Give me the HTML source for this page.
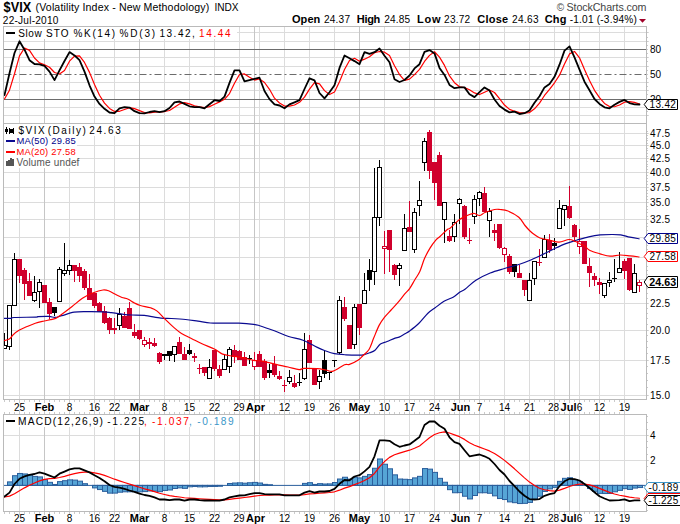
<!DOCTYPE html>
<html><head><meta charset="utf-8"><style>
html,body{margin:0;padding:0;background:#fff;overflow:hidden;}
svg{display:block;}
</style></head><body>
<svg width="680" height="524" viewBox="0 0 680 524" shape-rendering="auto">
<rect x="0" y="0" width="680" height="524" fill="#fff"/>
<text x="3.6" y="11.8" font-family="'Liberation Sans', sans-serif" font-size="13.9" fill="#000" font-weight="bold" text-anchor="start" textLength="27.6" lengthAdjust="spacingAndGlyphs" >$VIX</text>
<text x="35.6" y="10.8" font-family="'Liberation Sans', sans-serif" font-size="10.6" fill="#000" font-weight="normal" text-anchor="start" textLength="173.6" lengthAdjust="spacing" >(Volatility Index - New Methodology)</text>
<text x="214.5" y="11" font-family="'Liberation Sans', sans-serif" font-size="10.1" fill="#000" font-weight="normal" text-anchor="start" textLength="24" lengthAdjust="spacing" >INDX</text>
<text x="2.8" y="23.9" font-family="'Liberation Sans', sans-serif" font-size="10.1" fill="#000" font-weight="normal" text-anchor="start" textLength="55.6" lengthAdjust="spacing" >22-Jul-2010</text>
<text x="292" y="23.4" font-family="'Liberation Sans', sans-serif" font-size="11" fill="#000" font-weight="bold" text-anchor="start" textLength="28.3" lengthAdjust="spacing" >Open</text>
<text x="324" y="23.4" font-family="'Liberation Sans', sans-serif" font-size="10.1" fill="#000" font-weight="normal" text-anchor="start" textLength="26.0" lengthAdjust="spacing" >24.37</text>
<text x="356.8" y="23.4" font-family="'Liberation Sans', sans-serif" font-size="11" fill="#000" font-weight="bold" text-anchor="start" textLength="23.5" lengthAdjust="spacing" >High</text>
<text x="384.2" y="23.4" font-family="'Liberation Sans', sans-serif" font-size="10.1" fill="#000" font-weight="normal" text-anchor="start" textLength="26.0" lengthAdjust="spacing" >24.85</text>
<text x="416.9" y="23.4" font-family="'Liberation Sans', sans-serif" font-size="11" fill="#000" font-weight="bold" text-anchor="start" textLength="23.6" lengthAdjust="spacing" >Low</text>
<text x="444.1" y="23.4" font-family="'Liberation Sans', sans-serif" font-size="10.1" fill="#000" font-weight="normal" text-anchor="start" textLength="26.0" lengthAdjust="spacing" >23.72</text>
<text x="477.3" y="23.4" font-family="'Liberation Sans', sans-serif" font-size="11" fill="#000" font-weight="bold" text-anchor="start" textLength="30.8" lengthAdjust="spacing" >Close</text>
<text x="512.1" y="23.4" font-family="'Liberation Sans', sans-serif" font-size="10.1" fill="#000" font-weight="normal" text-anchor="start" textLength="26.5" lengthAdjust="spacing" >24.63</text>
<text x="544.8" y="23.4" font-family="'Liberation Sans', sans-serif" font-size="11" fill="#000" font-weight="bold" text-anchor="start" textLength="21.6" lengthAdjust="spacing" >Chg</text>
<text x="569.7" y="23.4" font-family="'Liberation Sans', sans-serif" font-size="10.1" fill="#000" font-weight="normal" text-anchor="start" textLength="67.1" lengthAdjust="spacing" >-1.01 (-3.94%)</text>
<path d="M639,19 L646,19 L642.5,22.8 Z" fill="#a00028"/>
<text x="556.8" y="10.6" font-family="'Liberation Sans', sans-serif" font-size="10" fill="#444" font-weight="normal" text-anchor="start" textLength="7.5" lengthAdjust="spacing" >©</text>
<text x="566.5" y="10.6" font-family="'Liberation Sans', sans-serif" font-size="10.7" fill="#444" font-weight="normal" text-anchor="start" textLength="80" lengthAdjust="spacing" >StockCharts.com</text>
<rect x="3.5" y="26.5" width="643.0" height="97.0" fill="#fff"/>
<line x1="3.5" y1="115.5" x2="649" y2="115.5" stroke="#dcdcdc" />
<line x1="3.5" y1="107.5" x2="649" y2="107.5" stroke="#dcdcdc" />
<line x1="3.5" y1="90.5" x2="649" y2="90.5" stroke="#dcdcdc" />
<line x1="3.5" y1="82.5" x2="649" y2="82.5" stroke="#dcdcdc" />
<line x1="3.5" y1="66.5" x2="649" y2="66.5" stroke="#dcdcdc" />
<line x1="3.5" y1="57.5" x2="649" y2="57.5" stroke="#dcdcdc" />
<line x1="3.5" y1="41.5" x2="649" y2="41.5" stroke="#dcdcdc" />
<line x1="3.5" y1="32.5" x2="649" y2="32.5" stroke="#dcdcdc" />
<line x1="19.5" y1="26.5" x2="19.5" y2="123.5" stroke="#dcdcdc"/>
<line x1="69.5" y1="26.5" x2="69.5" y2="123.5" stroke="#dcdcdc"/>
<line x1="94.5" y1="26.5" x2="94.5" y2="123.5" stroke="#dcdcdc"/>
<line x1="114.5" y1="26.5" x2="114.5" y2="123.5" stroke="#dcdcdc"/>
<line x1="164.5" y1="26.5" x2="164.5" y2="123.5" stroke="#dcdcdc"/>
<line x1="189.5" y1="26.5" x2="189.5" y2="123.5" stroke="#dcdcdc"/>
<line x1="214.5" y1="26.5" x2="214.5" y2="123.5" stroke="#dcdcdc"/>
<line x1="239.5" y1="26.5" x2="239.5" y2="123.5" stroke="#dcdcdc"/>
<line x1="259.5" y1="26.5" x2="259.5" y2="123.5" stroke="#dcdcdc"/>
<line x1="284.5" y1="26.5" x2="284.5" y2="123.5" stroke="#dcdcdc"/>
<line x1="309.5" y1="26.5" x2="309.5" y2="123.5" stroke="#dcdcdc"/>
<line x1="334.5" y1="26.5" x2="334.5" y2="123.5" stroke="#dcdcdc"/>
<line x1="384.5" y1="26.5" x2="384.5" y2="123.5" stroke="#dcdcdc"/>
<line x1="409.5" y1="26.5" x2="409.5" y2="123.5" stroke="#dcdcdc"/>
<line x1="434.5" y1="26.5" x2="434.5" y2="123.5" stroke="#dcdcdc"/>
<line x1="479.5" y1="26.5" x2="479.5" y2="123.5" stroke="#dcdcdc"/>
<line x1="504.5" y1="26.5" x2="504.5" y2="123.5" stroke="#dcdcdc"/>
<line x1="529.5" y1="26.5" x2="529.5" y2="123.5" stroke="#dcdcdc"/>
<line x1="554.5" y1="26.5" x2="554.5" y2="123.5" stroke="#dcdcdc"/>
<line x1="579.5" y1="26.5" x2="579.5" y2="123.5" stroke="#dcdcdc"/>
<line x1="599.5" y1="26.5" x2="599.5" y2="123.5" stroke="#dcdcdc"/>
<line x1="624.5" y1="26.5" x2="624.5" y2="123.5" stroke="#dcdcdc"/>
<line x1="44.5" y1="26.5" x2="44.5" y2="123.5" stroke="#c6c6c6"/>
<line x1="139.5" y1="26.5" x2="139.5" y2="123.5" stroke="#c6c6c6"/>
<line x1="254.5" y1="26.5" x2="254.5" y2="123.5" stroke="#c6c6c6"/>
<line x1="359.5" y1="26.5" x2="359.5" y2="123.5" stroke="#c6c6c6"/>
<line x1="459.5" y1="26.5" x2="459.5" y2="123.5" stroke="#c6c6c6"/>
<line x1="569.5" y1="26.5" x2="569.5" y2="123.5" stroke="#c6c6c6"/>
<line x1="3.5" y1="49.5" x2="646.5" y2="49.5" stroke="#6c6c6c" />
<line x1="3.5" y1="99.5" x2="646.5" y2="99.5" stroke="#6c6c6c" />
<line x1="4.5" y1="74.5" x2="646.5" y2="74.5" stroke="#6c6c6c" stroke-dasharray="7,3,2,3"/>
<clipPath id="c1"><rect x="4" y="27" width="642" height="96"/></clipPath>
<g clip-path="url(#c1)">
<polyline points="4.50,99.00 9.50,90.20 14.50,73.73 19.50,55.83 24.50,48.00 29.50,50.40 34.50,57.97 39.50,62.83 44.50,64.73 49.50,67.27 54.50,72.53 59.50,74.03 64.50,70.50 69.50,61.17 74.50,56.17 79.50,55.90 84.50,62.40 89.50,72.37 94.50,84.50 99.50,95.27 104.50,103.10 109.50,108.40 114.50,111.47 119.50,111.30 124.50,109.53 129.50,107.70 134.50,108.67 139.50,110.63 144.50,112.53 149.50,112.80 154.50,112.17 159.50,111.80 164.50,111.53 169.50,110.47 174.50,107.17 179.50,103.93 184.50,102.57 189.50,103.90 194.50,105.80 199.50,106.90 204.50,107.57 209.50,106.60 214.50,104.27 219.50,101.90 224.50,99.33 229.50,93.57 234.50,83.27 239.50,74.50 244.50,73.97 249.50,77.23 254.50,80.07 259.50,78.87 264.50,82.50 269.50,89.27 274.50,98.17 279.50,103.00 284.50,106.07 289.50,106.07 294.50,105.00 299.50,102.30 304.50,97.17 309.50,89.17 314.50,82.57 319.50,83.90 324.50,90.60 329.50,94.53 334.50,91.93 339.50,81.77 344.50,69.53 349.50,60.53 354.50,58.27 359.50,61.17 364.50,59.17 369.50,56.77 374.50,52.77 379.50,51.53 384.50,52.17 389.50,55.53 394.50,65.80 399.50,74.53 404.50,80.43 409.50,79.17 414.50,74.63 419.50,69.37 424.50,61.47 429.50,55.37 434.50,51.77 439.50,57.13 444.50,65.40 449.50,75.90 454.50,82.67 459.50,86.83 464.50,87.67 469.50,89.70 474.50,92.93 479.50,94.53 484.50,92.23 489.50,90.07 494.50,92.50 499.50,98.70 504.50,105.03 509.50,109.33 514.50,111.20 519.50,112.67 524.50,112.93 529.50,112.57 534.50,108.80 539.50,103.17 544.50,95.47 549.50,89.27 554.50,82.77 559.50,75.20 564.50,64.03 569.50,53.90 574.50,51.47 579.50,57.80 584.50,69.57 589.50,80.50 594.50,90.30 599.50,97.70 604.50,103.40 609.50,106.50 614.50,106.77 619.50,104.97 624.50,102.17 629.50,101.63 634.50,102.43 639.50,103.97" fill="none" stroke="#ff0000" stroke-width="1.2" stroke-linejoin="round" stroke-linecap="round" />
<polyline points="4.50,95.00 9.50,73.20 14.50,53.00 19.50,41.30 24.50,49.70 29.50,60.20 34.50,64.00 39.50,64.30 44.50,65.90 49.50,71.60 54.50,80.10 59.50,70.40 64.50,61.00 69.50,52.10 74.50,55.40 79.50,60.20 84.50,71.60 89.50,85.30 94.50,96.60 99.50,103.90 104.50,108.80 109.50,112.50 114.50,113.10 119.50,108.30 124.50,107.20 129.50,107.60 134.50,111.20 139.50,113.10 144.50,113.30 149.50,112.00 154.50,111.20 159.50,112.20 164.50,111.20 169.50,108.00 174.50,102.30 179.50,101.50 184.50,103.90 189.50,106.30 194.50,107.20 199.50,107.20 204.50,108.30 209.50,104.30 214.50,100.20 219.50,101.20 224.50,96.60 229.50,82.90 234.50,70.30 239.50,70.30 244.50,81.30 249.50,80.10 254.50,78.80 259.50,77.70 264.50,91.00 269.50,99.10 274.50,104.40 279.50,105.50 284.50,108.30 289.50,104.40 294.50,102.30 299.50,100.20 304.50,89.00 309.50,78.30 314.50,80.40 319.50,93.00 324.50,98.40 329.50,92.20 334.50,85.20 339.50,67.90 344.50,55.50 349.50,58.20 354.50,61.10 359.50,64.20 364.50,52.20 369.50,53.90 374.50,52.20 379.50,48.50 384.50,55.80 389.50,62.30 394.50,79.30 399.50,82.00 404.50,80.00 409.50,75.50 414.50,68.40 419.50,64.20 424.50,51.80 429.50,50.10 434.50,53.40 439.50,67.90 444.50,74.90 449.50,84.90 454.50,88.20 459.50,87.40 464.50,87.40 469.50,94.30 474.50,97.10 479.50,92.20 484.50,87.40 489.50,90.60 494.50,99.50 499.50,106.00 504.50,109.60 509.50,112.40 514.50,111.60 519.50,114.00 524.50,113.20 529.50,110.50 534.50,102.70 539.50,96.30 544.50,87.40 549.50,84.10 554.50,76.80 559.50,64.70 564.50,50.60 569.50,46.40 574.50,57.40 579.50,69.60 584.50,81.70 589.50,90.20 594.50,99.00 599.50,103.90 604.50,107.30 609.50,108.30 614.50,104.70 619.50,101.90 624.50,99.90 629.50,103.10 634.50,104.30 639.50,104.50" fill="none" stroke="#000" stroke-width="1.8" stroke-linejoin="round" stroke-linecap="round" />
</g>
<rect x="4" y="27" width="233" height="12" fill="#fff"/>
<rect x="6" y="32" width="9" height="2" fill="#000"/>
<text x="18.3" y="36.6" font-family="'Liberation Sans', sans-serif" font-size="10" fill="#000" font-weight="normal" text-anchor="start" textLength="23.400000000000002" lengthAdjust="spacing" >Slow</text>
<text x="46.0" y="36.6" font-family="'Liberation Sans', sans-serif" font-size="10" fill="#000" font-weight="normal" text-anchor="start" textLength="22.5" lengthAdjust="spacing" >STO</text>
<text x="73.6" y="36.6" font-family="'Liberation Sans', sans-serif" font-size="10" fill="#000" font-weight="normal" text-anchor="start" textLength="41.400000000000006" lengthAdjust="spacing" >%K(14)</text>
<text x="119.5" y="36.6" font-family="'Liberation Sans', sans-serif" font-size="10" fill="#000" font-weight="normal" text-anchor="start" textLength="35.69999999999999" lengthAdjust="spacing" >%D(3)</text>
<text x="159.4" y="36.6" font-family="'Liberation Sans', sans-serif" font-size="10" fill="#000" font-weight="normal" text-anchor="start" textLength="35.5" lengthAdjust="spacing" >13.42,</text>
<text x="199.1" y="36.6" font-family="'Liberation Sans', sans-serif" font-size="10" fill="#f00" font-weight="normal" text-anchor="start" textLength="31.400000000000006" lengthAdjust="spacing" >14.44</text>
<line x1="3.5" y1="395.5" x2="649" y2="395.5" stroke="#dcdcdc" />
<line x1="3.5" y1="360.5" x2="649" y2="360.5" stroke="#dcdcdc" />
<line x1="3.5" y1="330.5" x2="649" y2="330.5" stroke="#dcdcdc" />
<line x1="3.5" y1="303.5" x2="649" y2="303.5" stroke="#dcdcdc" />
<line x1="3.5" y1="279.5" x2="649" y2="279.5" stroke="#dcdcdc" />
<line x1="3.5" y1="257.5" x2="649" y2="257.5" stroke="#dcdcdc" />
<line x1="3.5" y1="237.5" x2="649" y2="237.5" stroke="#dcdcdc" />
<line x1="3.5" y1="219.5" x2="649" y2="219.5" stroke="#dcdcdc" />
<line x1="3.5" y1="202.5" x2="649" y2="202.5" stroke="#dcdcdc" />
<line x1="3.5" y1="187.5" x2="649" y2="187.5" stroke="#dcdcdc" />
<line x1="3.5" y1="172.5" x2="649" y2="172.5" stroke="#dcdcdc" />
<line x1="3.5" y1="158.5" x2="649" y2="158.5" stroke="#dcdcdc" />
<line x1="3.5" y1="145.5" x2="649" y2="145.5" stroke="#dcdcdc" />
<line x1="3.5" y1="133.5" x2="649" y2="133.5" stroke="#dcdcdc" />
<line x1="19.5" y1="123.5" x2="19.5" y2="399.5" stroke="#dcdcdc"/>
<line x1="69.5" y1="123.5" x2="69.5" y2="399.5" stroke="#dcdcdc"/>
<line x1="94.5" y1="123.5" x2="94.5" y2="399.5" stroke="#dcdcdc"/>
<line x1="114.5" y1="123.5" x2="114.5" y2="399.5" stroke="#dcdcdc"/>
<line x1="164.5" y1="123.5" x2="164.5" y2="399.5" stroke="#dcdcdc"/>
<line x1="189.5" y1="123.5" x2="189.5" y2="399.5" stroke="#dcdcdc"/>
<line x1="214.5" y1="123.5" x2="214.5" y2="399.5" stroke="#dcdcdc"/>
<line x1="239.5" y1="123.5" x2="239.5" y2="399.5" stroke="#dcdcdc"/>
<line x1="259.5" y1="123.5" x2="259.5" y2="399.5" stroke="#dcdcdc"/>
<line x1="284.5" y1="123.5" x2="284.5" y2="399.5" stroke="#dcdcdc"/>
<line x1="309.5" y1="123.5" x2="309.5" y2="399.5" stroke="#dcdcdc"/>
<line x1="334.5" y1="123.5" x2="334.5" y2="399.5" stroke="#dcdcdc"/>
<line x1="384.5" y1="123.5" x2="384.5" y2="399.5" stroke="#dcdcdc"/>
<line x1="409.5" y1="123.5" x2="409.5" y2="399.5" stroke="#dcdcdc"/>
<line x1="434.5" y1="123.5" x2="434.5" y2="399.5" stroke="#dcdcdc"/>
<line x1="479.5" y1="123.5" x2="479.5" y2="399.5" stroke="#dcdcdc"/>
<line x1="504.5" y1="123.5" x2="504.5" y2="399.5" stroke="#dcdcdc"/>
<line x1="529.5" y1="123.5" x2="529.5" y2="399.5" stroke="#dcdcdc"/>
<line x1="554.5" y1="123.5" x2="554.5" y2="399.5" stroke="#dcdcdc"/>
<line x1="579.5" y1="123.5" x2="579.5" y2="399.5" stroke="#dcdcdc"/>
<line x1="599.5" y1="123.5" x2="599.5" y2="399.5" stroke="#dcdcdc"/>
<line x1="624.5" y1="123.5" x2="624.5" y2="399.5" stroke="#dcdcdc"/>
<line x1="44.5" y1="123.5" x2="44.5" y2="399.5" stroke="#c6c6c6"/>
<line x1="139.5" y1="123.5" x2="139.5" y2="399.5" stroke="#c6c6c6"/>
<line x1="254.5" y1="123.5" x2="254.5" y2="399.5" stroke="#c6c6c6"/>
<line x1="359.5" y1="123.5" x2="359.5" y2="399.5" stroke="#c6c6c6"/>
<line x1="459.5" y1="123.5" x2="459.5" y2="399.5" stroke="#c6c6c6"/>
<line x1="569.5" y1="123.5" x2="569.5" y2="399.5" stroke="#c6c6c6"/>
<clipPath id="c2"><rect x="4" y="124" width="642" height="275"/></clipPath>
<g clip-path="url(#c2)">
<rect x="4.0" y="333" width="1" height="16" fill="#000"/>
<rect x="2.5" y="345.5" width="4" height="3" fill="#fff" stroke="#000" stroke-width="1"/>
<rect x="9.0" y="306" width="1" height="44" fill="#000"/>
<rect x="7.5" y="305.5" width="4" height="41" fill="#fff" stroke="#000" stroke-width="1"/>
<rect x="14.0" y="253" width="1" height="53" fill="#000"/>
<rect x="12.5" y="259.5" width="4" height="46" fill="#fff" stroke="#000" stroke-width="1"/>
<rect x="19.0" y="259" width="1" height="24" fill="#d0002c"/>
<rect x="17.0" y="259" width="5" height="17" fill="#d0002c"/>
<rect x="24.0" y="268" width="1" height="32" fill="#d0002c"/>
<rect x="22.0" y="270" width="5" height="14" fill="#d0002c"/>
<rect x="29.0" y="273" width="1" height="23" fill="#d0002c"/>
<rect x="27.0" y="281" width="5" height="15" fill="#d0002c"/>
<rect x="34.0" y="276" width="1" height="26" fill="#000"/>
<rect x="32.5" y="292.5" width="4" height="8" fill="#fff" stroke="#000" stroke-width="1"/>
<rect x="39.0" y="279" width="1" height="29" fill="#000"/>
<rect x="37.5" y="282.5" width="4" height="9" fill="#fff" stroke="#000" stroke-width="1"/>
<rect x="44.0" y="285" width="1" height="18" fill="#d0002c"/>
<rect x="42.0" y="285" width="5" height="18" fill="#d0002c"/>
<rect x="49.0" y="298" width="1" height="21" fill="#d0002c"/>
<rect x="47.0" y="302" width="5" height="12" fill="#d0002c"/>
<rect x="54.0" y="307" width="1" height="9" fill="#000"/>
<rect x="52.0" y="307" width="5" height="6" fill="#000"/>
<rect x="59.0" y="267" width="1" height="35" fill="#000"/>
<rect x="57.5" y="269.5" width="4" height="32" fill="#fff" stroke="#000" stroke-width="1"/>
<rect x="64.0" y="243" width="1" height="33" fill="#000"/>
<rect x="62.5" y="270.5" width="4" height="3" fill="#fff" stroke="#000" stroke-width="1"/>
<rect x="69.0" y="260" width="1" height="15" fill="#000"/>
<rect x="67.5" y="265.5" width="4" height="5" fill="#fff" stroke="#000" stroke-width="1"/>
<rect x="74.0" y="265" width="1" height="17" fill="#d0002c"/>
<rect x="72.0" y="265" width="5" height="6" fill="#d0002c"/>
<rect x="79.0" y="263" width="1" height="19" fill="#d0002c"/>
<rect x="77.0" y="267" width="5" height="9" fill="#d0002c"/>
<rect x="84.0" y="269" width="1" height="21" fill="#d0002c"/>
<rect x="82.0" y="271" width="5" height="17" fill="#d0002c"/>
<rect x="89.0" y="274" width="1" height="26" fill="#d0002c"/>
<rect x="87.0" y="288" width="5" height="12" fill="#d0002c"/>
<rect x="94.0" y="293" width="1" height="15" fill="#d0002c"/>
<rect x="92.0" y="293" width="5" height="13" fill="#d0002c"/>
<rect x="99.0" y="302" width="1" height="10" fill="#d0002c"/>
<rect x="97.0" y="303" width="5" height="9" fill="#d0002c"/>
<rect x="104.0" y="306" width="1" height="18" fill="#d0002c"/>
<rect x="102.0" y="311" width="5" height="12" fill="#d0002c"/>
<rect x="109.0" y="317" width="1" height="17" fill="#d0002c"/>
<rect x="107.0" y="318" width="5" height="12" fill="#d0002c"/>
<rect x="114.0" y="318" width="1" height="16" fill="#d0002c"/>
<rect x="112.0" y="328" width="5" height="2" fill="#d0002c"/>
<rect x="119.0" y="308" width="1" height="22" fill="#000"/>
<rect x="117.5" y="314.5" width="4" height="11" fill="#fff" stroke="#000" stroke-width="1"/>
<rect x="124.0" y="312" width="1" height="16" fill="#d0002c"/>
<rect x="122.0" y="316" width="5" height="12" fill="#d0002c"/>
<rect x="129.0" y="302" width="1" height="27" fill="#d0002c"/>
<rect x="127.0" y="308" width="5" height="21" fill="#d0002c"/>
<rect x="134.0" y="324" width="1" height="14" fill="#d0002c"/>
<rect x="132.0" y="332" width="5" height="4" fill="#d0002c"/>
<rect x="139.0" y="330" width="1" height="10" fill="#d0002c"/>
<rect x="137.0" y="330" width="5" height="9" fill="#d0002c"/>
<rect x="144.0" y="337" width="1" height="10" fill="#d0002c"/>
<rect x="142.5" y="340.5" width="4" height="4" fill="#fff" stroke="#d0002c" stroke-width="1"/>
<rect x="149.0" y="338" width="1" height="11" fill="#d0002c"/>
<rect x="147.0" y="342" width="5" height="2" fill="#d0002c"/>
<rect x="154.0" y="338" width="1" height="9" fill="#d0002c"/>
<rect x="152.0" y="343" width="5" height="3" fill="#d0002c"/>
<rect x="159.0" y="352" width="1" height="12" fill="#d0002c"/>
<rect x="157.0" y="353" width="5" height="9" fill="#d0002c"/>
<rect x="164.0" y="354" width="1" height="6" fill="#000"/>
<rect x="162.0" y="354" width="5" height="2" fill="#000"/>
<rect x="169.0" y="351" width="1" height="10" fill="#000"/>
<rect x="167.0" y="351" width="5" height="5" fill="#000"/>
<rect x="174.0" y="346" width="1" height="16" fill="#000"/>
<rect x="172.5" y="346.5" width="4" height="8" fill="#fff" stroke="#000" stroke-width="1"/>
<rect x="179.0" y="337" width="1" height="17" fill="#d0002c"/>
<rect x="177.0" y="342" width="5" height="12" fill="#d0002c"/>
<rect x="184.0" y="347" width="1" height="13" fill="#d0002c"/>
<rect x="182.0" y="354" width="5" height="6" fill="#d0002c"/>
<rect x="189.0" y="344" width="1" height="11" fill="#000"/>
<rect x="187.0" y="350" width="5" height="4" fill="#000"/>
<rect x="194.0" y="353" width="1" height="9" fill="#d0002c"/>
<rect x="192.0" y="356" width="5" height="2" fill="#d0002c"/>
<rect x="199.0" y="364" width="1" height="10" fill="#d0002c"/>
<rect x="197.0" y="368" width="5" height="1" fill="#d0002c"/>
<rect x="204.0" y="367" width="1" height="9" fill="#d0002c"/>
<rect x="202.0" y="367" width="5" height="6" fill="#d0002c"/>
<rect x="209.0" y="359" width="1" height="19" fill="#000"/>
<rect x="207.5" y="367.5" width="4" height="11" fill="#fff" stroke="#000" stroke-width="1"/>
<rect x="214.0" y="350" width="1" height="21" fill="#d0002c"/>
<rect x="212.0" y="350" width="5" height="19" fill="#d0002c"/>
<rect x="219.0" y="365" width="1" height="13" fill="#d0002c"/>
<rect x="217.0" y="369" width="5" height="7" fill="#d0002c"/>
<rect x="224.0" y="355" width="1" height="15" fill="#000"/>
<rect x="222.5" y="359.5" width="4" height="10" fill="#fff" stroke="#000" stroke-width="1"/>
<rect x="229.0" y="347" width="1" height="26" fill="#000"/>
<rect x="227.5" y="349.5" width="4" height="17" fill="#fff" stroke="#000" stroke-width="1"/>
<rect x="234.0" y="345" width="1" height="18" fill="#d0002c"/>
<rect x="232.0" y="350" width="5" height="7" fill="#d0002c"/>
<rect x="239.0" y="350" width="1" height="10" fill="#d0002c"/>
<rect x="237.0" y="351" width="5" height="9" fill="#d0002c"/>
<rect x="244.0" y="352" width="1" height="14" fill="#d0002c"/>
<rect x="242.0" y="357" width="5" height="9" fill="#d0002c"/>
<rect x="249.0" y="355" width="1" height="9" fill="#000"/>
<rect x="247.0" y="358" width="5" height="1" fill="#000"/>
<rect x="254.0" y="352" width="1" height="18" fill="#d0002c"/>
<rect x="252.5" y="360.5" width="4" height="6" fill="#fff" stroke="#d0002c" stroke-width="1"/>
<rect x="259.0" y="351" width="1" height="16" fill="#d0002c"/>
<rect x="257.0" y="354" width="5" height="13" fill="#d0002c"/>
<rect x="264.0" y="359" width="1" height="21" fill="#d0002c"/>
<rect x="262.0" y="361" width="5" height="17" fill="#d0002c"/>
<rect x="269.0" y="364" width="1" height="14" fill="#000"/>
<rect x="267.0" y="370" width="5" height="3" fill="#000"/>
<rect x="274.0" y="356" width="1" height="21" fill="#d0002c"/>
<rect x="272.0" y="364" width="5" height="11" fill="#d0002c"/>
<rect x="279.0" y="371" width="1" height="9" fill="#d0002c"/>
<rect x="277.0" y="376" width="5" height="3" fill="#d0002c"/>
<rect x="284.0" y="380" width="1" height="12" fill="#d0002c"/>
<rect x="282.0" y="385" width="5" height="1" fill="#d0002c"/>
<rect x="289.0" y="370" width="1" height="14" fill="#000"/>
<rect x="287.5" y="377.5" width="4" height="4" fill="#fff" stroke="#000" stroke-width="1"/>
<rect x="294.0" y="375" width="1" height="13" fill="#d0002c"/>
<rect x="292.0" y="383" width="5" height="4" fill="#d0002c"/>
<rect x="299.0" y="373" width="1" height="13" fill="#000"/>
<rect x="297.0" y="382" width="5" height="1" fill="#000"/>
<rect x="304.0" y="333" width="1" height="47" fill="#000"/>
<rect x="302.5" y="349.5" width="4" height="29" fill="#fff" stroke="#000" stroke-width="1"/>
<rect x="309.0" y="335" width="1" height="28" fill="#d0002c"/>
<rect x="307.0" y="340" width="5" height="23" fill="#d0002c"/>
<rect x="314.0" y="369" width="1" height="16" fill="#d0002c"/>
<rect x="312.0" y="369" width="5" height="16" fill="#d0002c"/>
<rect x="319.0" y="370" width="1" height="19" fill="#000"/>
<rect x="317.5" y="376.5" width="4" height="5" fill="#fff" stroke="#000" stroke-width="1"/>
<rect x="324.0" y="351" width="1" height="27" fill="#000"/>
<rect x="322.0" y="360" width="5" height="14" fill="#000"/>
<rect x="329.0" y="372" width="1" height="8" fill="#000"/>
<rect x="327.0" y="372" width="5" height="1" fill="#000"/>
<rect x="334.0" y="360" width="1" height="7" fill="#000"/>
<rect x="332.0" y="360" width="5" height="1" fill="#000"/>
<rect x="339.0" y="296" width="1" height="58" fill="#000"/>
<rect x="337.5" y="300.5" width="4" height="52" fill="#fff" stroke="#000" stroke-width="1"/>
<rect x="344.0" y="297" width="1" height="24" fill="#d0002c"/>
<rect x="342.0" y="307" width="5" height="12" fill="#d0002c"/>
<rect x="349.0" y="325" width="1" height="24" fill="#d0002c"/>
<rect x="347.0" y="325" width="5" height="24" fill="#d0002c"/>
<rect x="354.0" y="304" width="1" height="45" fill="#000"/>
<rect x="352.5" y="307.5" width="4" height="37" fill="#fff" stroke="#000" stroke-width="1"/>
<rect x="359.0" y="304" width="1" height="31" fill="#d0002c"/>
<rect x="357.0" y="304" width="5" height="24" fill="#d0002c"/>
<rect x="364.0" y="273" width="1" height="30" fill="#000"/>
<rect x="362.5" y="290.5" width="4" height="13" fill="#fff" stroke="#000" stroke-width="1"/>
<rect x="369.0" y="259" width="1" height="32" fill="#000"/>
<rect x="367.0" y="270" width="5" height="10" fill="#000"/>
<rect x="374.0" y="168" width="1" height="117" fill="#000"/>
<rect x="372.5" y="217.5" width="4" height="54" fill="#fff" stroke="#000" stroke-width="1"/>
<rect x="379.0" y="160" width="1" height="66" fill="#000"/>
<rect x="377.5" y="167.5" width="4" height="50" fill="#fff" stroke="#000" stroke-width="1"/>
<rect x="384.0" y="231" width="1" height="43" fill="#d0002c"/>
<rect x="382.5" y="246.5" width="4" height="2" fill="#fff" stroke="#d0002c" stroke-width="1"/>
<rect x="389.0" y="230" width="1" height="42" fill="#d0002c"/>
<rect x="387.0" y="230" width="5" height="20" fill="#d0002c"/>
<rect x="394.0" y="264" width="1" height="16" fill="#d0002c"/>
<rect x="392.0" y="265" width="5" height="10" fill="#d0002c"/>
<rect x="399.0" y="263" width="1" height="23" fill="#000"/>
<rect x="397.5" y="265.5" width="4" height="3" fill="#fff" stroke="#000" stroke-width="1"/>
<rect x="404.0" y="214" width="1" height="36" fill="#000"/>
<rect x="402.5" y="228.5" width="4" height="22" fill="#fff" stroke="#000" stroke-width="1"/>
<rect x="409.0" y="201" width="1" height="31" fill="#d0002c"/>
<rect x="407.0" y="227" width="5" height="5" fill="#d0002c"/>
<rect x="414.0" y="208" width="1" height="45" fill="#000"/>
<rect x="412.5" y="212.5" width="4" height="37" fill="#fff" stroke="#000" stroke-width="1"/>
<rect x="419.0" y="181" width="1" height="35" fill="#000"/>
<rect x="417.5" y="200.5" width="4" height="5" fill="#fff" stroke="#000" stroke-width="1"/>
<rect x="424.0" y="138" width="1" height="33" fill="#000"/>
<rect x="422.5" y="141.5" width="4" height="21" fill="#fff" stroke="#000" stroke-width="1"/>
<rect x="429.0" y="130" width="1" height="49" fill="#d0002c"/>
<rect x="427.0" y="132" width="5" height="39" fill="#d0002c"/>
<rect x="434.0" y="162" width="1" height="38" fill="#d0002c"/>
<rect x="432.0" y="162" width="5" height="21" fill="#d0002c"/>
<rect x="439.0" y="152" width="1" height="54" fill="#d0002c"/>
<rect x="437.0" y="155" width="5" height="51" fill="#d0002c"/>
<rect x="444.0" y="202" width="1" height="41" fill="#000"/>
<rect x="442.5" y="202.5" width="4" height="17" fill="#fff" stroke="#000" stroke-width="1"/>
<rect x="449.0" y="230" width="1" height="12" fill="#d0002c"/>
<rect x="447.0" y="236" width="5" height="5" fill="#d0002c"/>
<rect x="454.0" y="214" width="1" height="28" fill="#000"/>
<rect x="452.5" y="222.5" width="4" height="14" fill="#fff" stroke="#000" stroke-width="1"/>
<rect x="459.0" y="198" width="1" height="26" fill="#000"/>
<rect x="457.5" y="199.5" width="4" height="4" fill="#fff" stroke="#000" stroke-width="1"/>
<rect x="464.0" y="205" width="1" height="34" fill="#d0002c"/>
<rect x="462.0" y="206" width="5" height="31" fill="#d0002c"/>
<rect x="469.0" y="228" width="1" height="16" fill="#d0002c"/>
<rect x="467.0" y="240" width="5" height="1" fill="#d0002c"/>
<rect x="474.0" y="195" width="1" height="29" fill="#000"/>
<rect x="472.5" y="199.5" width="4" height="17" fill="#fff" stroke="#000" stroke-width="1"/>
<rect x="479.0" y="191" width="1" height="15" fill="#000"/>
<rect x="477.5" y="192.5" width="4" height="6" fill="#fff" stroke="#000" stroke-width="1"/>
<rect x="484.0" y="187" width="1" height="25" fill="#d0002c"/>
<rect x="482.0" y="193" width="5" height="19" fill="#d0002c"/>
<rect x="489.0" y="208" width="1" height="29" fill="#000"/>
<rect x="487.5" y="211.5" width="4" height="9" fill="#fff" stroke="#000" stroke-width="1"/>
<rect x="494.0" y="224" width="1" height="17" fill="#d0002c"/>
<rect x="492.0" y="230" width="5" height="3" fill="#d0002c"/>
<rect x="499.0" y="224" width="1" height="25" fill="#d0002c"/>
<rect x="497.0" y="224" width="5" height="24" fill="#d0002c"/>
<rect x="504.0" y="247" width="1" height="15" fill="#d0002c"/>
<rect x="502.5" y="248.5" width="4" height="6" fill="#fff" stroke="#d0002c" stroke-width="1"/>
<rect x="509.0" y="254" width="1" height="20" fill="#d0002c"/>
<rect x="507.0" y="256" width="5" height="16" fill="#d0002c"/>
<rect x="514.0" y="264" width="1" height="13" fill="#000"/>
<rect x="512.0" y="264" width="5" height="8" fill="#000"/>
<rect x="519.0" y="265" width="1" height="13" fill="#d0002c"/>
<rect x="517.0" y="273" width="5" height="5" fill="#d0002c"/>
<rect x="524.0" y="280" width="1" height="16" fill="#d0002c"/>
<rect x="522.0" y="280" width="5" height="10" fill="#d0002c"/>
<rect x="529.0" y="273" width="1" height="27" fill="#000"/>
<rect x="527.5" y="280.5" width="4" height="20" fill="#fff" stroke="#000" stroke-width="1"/>
<rect x="534.0" y="261" width="1" height="24" fill="#000"/>
<rect x="532.5" y="261.5" width="4" height="17" fill="#fff" stroke="#000" stroke-width="1"/>
<rect x="539.0" y="249" width="1" height="17" fill="#d0002c"/>
<rect x="537.0" y="262" width="5" height="1" fill="#d0002c"/>
<rect x="544.0" y="235" width="1" height="23" fill="#000"/>
<rect x="542.5" y="239.5" width="4" height="18" fill="#fff" stroke="#000" stroke-width="1"/>
<rect x="549.0" y="234" width="1" height="19" fill="#d0002c"/>
<rect x="547.0" y="240" width="5" height="10" fill="#d0002c"/>
<rect x="554.0" y="238" width="1" height="12" fill="#000"/>
<rect x="552.0" y="243" width="5" height="3" fill="#000"/>
<rect x="559.0" y="200" width="1" height="28" fill="#000"/>
<rect x="557.5" y="208.5" width="4" height="20" fill="#fff" stroke="#000" stroke-width="1"/>
<rect x="564.0" y="206" width="1" height="20" fill="#000"/>
<rect x="562.5" y="205.5" width="4" height="4" fill="#fff" stroke="#000" stroke-width="1"/>
<rect x="569.0" y="186" width="1" height="33" fill="#d0002c"/>
<rect x="567.0" y="206" width="5" height="12" fill="#d0002c"/>
<rect x="574.0" y="224" width="1" height="18" fill="#d0002c"/>
<rect x="572.0" y="225" width="5" height="12" fill="#d0002c"/>
<rect x="579.0" y="229" width="1" height="25" fill="#d0002c"/>
<rect x="577.5" y="241.5" width="4" height="5" fill="#fff" stroke="#d0002c" stroke-width="1"/>
<rect x="584.0" y="241" width="1" height="23" fill="#d0002c"/>
<rect x="582.0" y="241" width="5" height="23" fill="#d0002c"/>
<rect x="589.0" y="258" width="1" height="29" fill="#d0002c"/>
<rect x="587.0" y="266" width="5" height="7" fill="#d0002c"/>
<rect x="594.0" y="273" width="1" height="13" fill="#d0002c"/>
<rect x="592.0" y="276" width="5" height="4" fill="#d0002c"/>
<rect x="599.0" y="278" width="1" height="16" fill="#d0002c"/>
<rect x="597.0" y="282" width="5" height="3" fill="#d0002c"/>
<rect x="604.0" y="284" width="1" height="14" fill="#000"/>
<rect x="602.5" y="283.5" width="4" height="12" fill="#fff" stroke="#000" stroke-width="1"/>
<rect x="609.0" y="272" width="1" height="15" fill="#000"/>
<rect x="607.5" y="280.5" width="4" height="2" fill="#fff" stroke="#000" stroke-width="1"/>
<rect x="614.0" y="259" width="1" height="23" fill="#000"/>
<rect x="612.0" y="278" width="5" height="1" fill="#000"/>
<rect x="619.0" y="252" width="1" height="20" fill="#000"/>
<rect x="617.5" y="268.5" width="4" height="4" fill="#fff" stroke="#000" stroke-width="1"/>
<rect x="624.0" y="259" width="1" height="20" fill="#d0002c"/>
<rect x="622.0" y="261" width="5" height="10" fill="#d0002c"/>
<rect x="629.0" y="258" width="1" height="33" fill="#d0002c"/>
<rect x="627.0" y="258" width="5" height="32" fill="#d0002c"/>
<rect x="634.0" y="264" width="1" height="28" fill="#000"/>
<rect x="632.5" y="273.5" width="4" height="19" fill="#fff" stroke="#000" stroke-width="1"/>
<rect x="639.0" y="280" width="1" height="12" fill="#d0002c"/>
<rect x="637.5" y="282.5" width="4" height="3" fill="#fff" stroke="#d0002c" stroke-width="1"/>
<path d="M3.00,318.40 C4.33,318.40 9.17,318.55 11.00,318.40 C12.83,318.25 9.83,317.72 14.00,317.50 C18.17,317.28 32.00,317.25 36.00,317.10 C40.00,316.95 35.83,316.72 38.00,316.60 C40.17,316.48 46.17,316.27 49.00,316.40 C51.83,316.53 52.87,317.52 55.00,317.40 C57.13,317.28 58.62,316.57 61.80,315.70 C64.98,314.83 69.98,312.88 74.10,312.20 C78.22,311.52 81.68,311.67 86.50,311.60 C91.32,311.53 98.88,311.63 103.00,311.80 C107.12,311.97 107.78,312.18 111.20,312.60 C114.62,313.02 120.03,313.90 123.50,314.30 C126.97,314.70 128.52,314.82 132.00,315.00 C135.48,315.18 139.58,314.88 144.40,315.40 C149.22,315.92 156.43,317.58 160.90,318.10 C165.37,318.62 167.08,318.27 171.20,318.50 C175.32,318.73 181.13,319.05 185.60,319.50 C190.07,319.95 193.88,320.62 198.00,321.20 C202.12,321.78 206.20,322.67 210.30,323.00 C214.40,323.33 217.82,323.17 222.60,323.20 C227.38,323.23 233.85,323.02 239.00,323.20 C244.15,323.38 250.05,323.88 253.50,324.30 C256.95,324.72 256.23,324.62 259.70,325.70 C263.17,326.78 269.48,329.00 274.30,330.80 C279.12,332.60 283.82,334.93 288.60,336.50 C293.38,338.07 298.22,338.38 303.00,340.20 C307.78,342.02 313.72,345.68 317.30,347.40 C320.88,349.12 321.65,349.45 324.50,350.50 C327.35,351.55 330.83,352.98 334.40,353.70 C337.97,354.42 341.60,354.57 345.90,354.80 C350.20,355.03 357.18,355.13 360.20,355.10 C363.22,355.07 362.42,354.98 364.00,354.60 C365.58,354.22 367.87,353.53 369.70,352.80 C371.53,352.07 373.22,351.65 375.00,350.20 C376.78,348.75 378.38,345.55 380.40,344.10 C382.42,342.65 384.65,342.50 387.10,341.50 C389.55,340.50 393.10,338.83 395.10,338.10 C397.10,337.37 397.45,337.82 399.10,337.10 C400.75,336.38 403.25,334.82 405.00,333.80 C406.75,332.78 407.32,332.72 409.60,331.00 C411.88,329.28 415.65,326.47 418.70,323.50 C421.75,320.53 425.22,315.77 427.90,313.20 C430.58,310.63 432.12,310.10 434.80,308.10 C437.48,306.10 440.95,303.02 444.00,301.20 C447.05,299.38 450.43,298.73 453.10,297.20 C455.77,295.67 458.02,293.33 460.00,292.00 C461.98,290.67 462.35,291.17 465.00,289.20 C467.65,287.23 471.70,282.90 475.90,280.20 C480.10,277.50 485.43,274.95 490.20,273.00 C494.97,271.05 499.73,269.92 504.50,268.50 C509.27,267.08 514.32,265.97 518.80,264.50 C523.28,263.03 527.38,261.38 531.40,259.70 C535.42,258.02 539.08,256.23 542.90,254.40 C546.72,252.57 550.48,250.50 554.30,248.70 C558.12,246.90 561.98,245.05 565.80,243.60 C569.62,242.15 573.38,241.13 577.20,240.00 C581.02,238.87 584.88,237.65 588.70,236.80 C592.52,235.95 596.28,235.28 600.10,234.90 C603.92,234.52 608.17,234.50 611.60,234.50 C615.03,234.50 617.65,234.45 620.70,234.90 C623.75,235.35 626.77,236.55 629.90,237.20 C633.03,237.85 637.90,238.53 639.50,238.80" fill="none" stroke="#0a0a90" stroke-width="1.2" stroke-linejoin="round"/>
<path d="M3.00,340.80 C4.05,340.52 7.60,340.12 9.30,339.10 C11.00,338.08 11.52,336.20 13.20,334.70 C14.88,333.20 17.18,331.42 19.40,330.10 C21.62,328.78 23.85,327.95 26.50,326.80 C29.15,325.65 32.37,324.17 35.30,323.20 C38.23,322.23 41.60,321.58 44.10,321.00 C46.60,320.42 48.38,320.13 50.30,319.70 C52.22,319.27 53.68,319.30 55.60,318.40 C57.52,317.50 59.05,316.28 61.80,314.30 C64.55,312.32 68.67,309.17 72.10,306.50 C75.53,303.83 78.97,300.55 82.40,298.30 C85.83,296.05 89.27,294.38 92.70,293.00 C96.13,291.62 100.27,290.33 103.00,290.00 C105.73,289.67 107.05,290.28 109.10,291.00 C111.15,291.72 113.15,293.22 115.30,294.30 C117.45,295.38 119.93,296.72 122.00,297.50 C124.07,298.28 125.62,298.08 127.70,299.00 C129.78,299.92 132.40,301.92 134.50,303.00 C136.60,304.08 137.62,304.70 140.30,305.50 C142.98,306.30 147.85,306.90 150.60,307.80 C153.35,308.70 154.40,309.02 156.80,310.90 C159.20,312.78 162.27,316.43 165.00,319.10 C167.73,321.77 170.45,324.50 173.20,326.90 C175.95,329.30 178.40,331.53 181.50,333.50 C184.60,335.47 188.38,336.98 191.80,338.70 C195.22,340.42 198.23,342.08 202.00,343.80 C205.77,345.52 210.97,347.28 214.40,349.00 C217.83,350.72 219.50,352.90 222.60,354.10 C225.70,355.30 229.57,355.58 233.00,356.20 C236.43,356.82 239.78,357.12 243.20,357.80 C246.62,358.48 250.07,359.72 253.50,360.30 C256.93,360.88 260.05,360.62 263.80,361.30 C267.55,361.98 271.97,363.45 276.00,364.40 C280.03,365.35 284.17,366.13 288.00,367.00 C291.83,367.87 296.33,369.37 299.00,369.60 C301.67,369.83 300.95,368.55 304.00,368.40 C307.05,368.25 313.63,368.43 317.30,368.70 C320.97,368.97 323.38,369.58 326.00,370.00 C328.62,370.42 329.92,372.07 333.00,371.20 C336.08,370.33 341.75,365.93 344.50,364.80 C347.25,363.67 347.20,365.20 349.50,364.40 C351.80,363.60 356.05,361.48 358.30,360.00 C360.55,358.52 361.22,357.25 363.00,355.50 C364.78,353.75 367.22,352.40 369.00,349.50 C370.78,346.60 372.02,342.12 373.70,338.10 C375.38,334.08 377.32,328.85 379.10,325.40 C380.88,321.95 382.40,319.97 384.40,317.40 C386.40,314.83 388.87,312.45 391.10,310.00 C393.33,307.55 395.48,305.42 397.80,302.70 C400.12,299.98 403.03,296.05 405.00,293.70 C406.97,291.35 407.98,290.88 409.60,288.60 C411.22,286.32 413.00,282.85 414.70,280.00 C416.40,277.15 418.17,275.07 419.80,271.50 C421.43,267.93 422.80,262.50 424.50,258.60 C426.20,254.70 428.12,251.18 430.00,248.10 C431.88,245.02 434.13,242.03 435.80,240.10 C437.47,238.17 438.08,238.27 440.00,236.50 C441.92,234.73 445.63,230.87 447.30,229.50 C448.97,228.13 448.10,229.87 450.00,228.30 C451.90,226.73 456.20,222.07 458.70,220.10 C461.20,218.13 463.08,217.47 465.00,216.50 C466.92,215.53 468.62,214.80 470.20,214.30 C471.78,213.80 472.95,213.30 474.50,213.50 C476.05,213.70 477.75,215.67 479.50,215.50 C481.25,215.33 482.50,213.50 485.00,212.50 C487.50,211.50 492.00,210.00 494.50,209.50 C497.00,209.00 497.75,209.25 500.00,209.50 C502.25,209.75 504.87,209.72 508.00,211.00 C511.13,212.28 515.97,214.78 518.80,217.20 C521.63,219.62 523.13,223.20 525.00,225.50 C526.87,227.80 528.33,229.42 530.00,231.00 C531.67,232.58 533.33,233.83 535.00,235.00 C536.67,236.17 537.50,237.12 540.00,238.00 C542.50,238.88 546.83,239.60 550.00,240.30 C553.17,241.00 555.83,242.33 559.00,242.20 C562.17,242.07 566.33,239.65 569.00,239.50 C571.67,239.35 573.17,240.55 575.00,241.30 C576.83,242.05 578.48,243.30 580.00,244.00 C581.52,244.70 582.43,244.42 584.10,245.50 C585.77,246.58 587.35,249.12 590.00,250.50 C592.65,251.88 596.67,252.85 600.00,253.80 C603.33,254.75 606.67,256.00 610.00,256.20 C613.33,256.40 616.67,255.07 620.00,255.00 C623.33,254.93 626.75,255.47 630.00,255.80 C633.25,256.13 637.92,256.80 639.50,257.00" fill="none" stroke="#ff0000" stroke-width="1.2" stroke-linejoin="round"/>
</g>
<rect x="4" y="124" width="117" height="12" fill="#fff"/>
<rect x="4" y="136" width="73" height="32" fill="#fff"/>
<g fill="#000"><rect x="6" y="127" width="1" height="7"/><rect x="5" y="129" width="3" height="3"/><rect x="9" y="128" width="1" height="6"/><rect x="10" y="129" width="3" height="4"/><rect x="13" y="128" width="1" height="6"/></g>
<text x="18.5" y="133.5" font-family="'Liberation Sans', sans-serif" font-size="10" fill="#000" font-weight="normal" text-anchor="start" textLength="26.1" lengthAdjust="spacing" >$VIX</text>
<text x="47.7" y="133.5" font-family="'Liberation Sans', sans-serif" font-size="10" fill="#000" font-weight="normal" text-anchor="start" textLength="38.2" lengthAdjust="spacing" >(Daily)</text>
<text x="89.3" y="133.5" font-family="'Liberation Sans', sans-serif" font-size="10" fill="#000" font-weight="normal" text-anchor="start" textLength="31.400000000000006" lengthAdjust="spacing" >24.63</text>
<rect x="6" y="140" width="9" height="2" fill="#0a0a90"/>
<text x="16.4" y="144.2" font-family="'Liberation Sans', sans-serif" font-size="9.4" fill="#00008b" font-weight="normal" text-anchor="start" textLength="59.2" lengthAdjust="spacing" >MA(50) 29.85</text>
<rect x="6" y="151" width="9" height="2" fill="#f00"/>
<text x="16.4" y="155.2" font-family="'Liberation Sans', sans-serif" font-size="9.4" fill="#f00" font-weight="normal" text-anchor="start" textLength="59.2" lengthAdjust="spacing" >MA(20) 27.58</text>
<g fill="#555"><rect x="6" y="161" width="2" height="5"/><rect x="8" y="160" width="2" height="6"/><rect x="10" y="158" width="2" height="8"/><rect x="12" y="159" width="2" height="7"/></g>
<text x="16.4" y="165.8" font-family="'Liberation Sans', sans-serif" font-size="10" fill="#555" font-weight="normal" text-anchor="start" textLength="63" lengthAdjust="spacing" >Volume undef</text>
<line x1="3.5" y1="435.5" x2="649" y2="435.5" stroke="#dcdcdc" />
<line x1="3.5" y1="460.5" x2="649" y2="460.5" stroke="#dcdcdc" />
<line x1="19.5" y1="414.5" x2="19.5" y2="511.5" stroke="#dcdcdc"/>
<line x1="69.5" y1="414.5" x2="69.5" y2="511.5" stroke="#dcdcdc"/>
<line x1="94.5" y1="414.5" x2="94.5" y2="511.5" stroke="#dcdcdc"/>
<line x1="114.5" y1="414.5" x2="114.5" y2="511.5" stroke="#dcdcdc"/>
<line x1="164.5" y1="414.5" x2="164.5" y2="511.5" stroke="#dcdcdc"/>
<line x1="189.5" y1="414.5" x2="189.5" y2="511.5" stroke="#dcdcdc"/>
<line x1="214.5" y1="414.5" x2="214.5" y2="511.5" stroke="#dcdcdc"/>
<line x1="239.5" y1="414.5" x2="239.5" y2="511.5" stroke="#dcdcdc"/>
<line x1="259.5" y1="414.5" x2="259.5" y2="511.5" stroke="#dcdcdc"/>
<line x1="284.5" y1="414.5" x2="284.5" y2="511.5" stroke="#dcdcdc"/>
<line x1="309.5" y1="414.5" x2="309.5" y2="511.5" stroke="#dcdcdc"/>
<line x1="334.5" y1="414.5" x2="334.5" y2="511.5" stroke="#dcdcdc"/>
<line x1="384.5" y1="414.5" x2="384.5" y2="511.5" stroke="#dcdcdc"/>
<line x1="409.5" y1="414.5" x2="409.5" y2="511.5" stroke="#dcdcdc"/>
<line x1="434.5" y1="414.5" x2="434.5" y2="511.5" stroke="#dcdcdc"/>
<line x1="479.5" y1="414.5" x2="479.5" y2="511.5" stroke="#dcdcdc"/>
<line x1="504.5" y1="414.5" x2="504.5" y2="511.5" stroke="#dcdcdc"/>
<line x1="529.5" y1="414.5" x2="529.5" y2="511.5" stroke="#dcdcdc"/>
<line x1="554.5" y1="414.5" x2="554.5" y2="511.5" stroke="#dcdcdc"/>
<line x1="579.5" y1="414.5" x2="579.5" y2="511.5" stroke="#dcdcdc"/>
<line x1="599.5" y1="414.5" x2="599.5" y2="511.5" stroke="#dcdcdc"/>
<line x1="624.5" y1="414.5" x2="624.5" y2="511.5" stroke="#dcdcdc"/>
<line x1="44.5" y1="414.5" x2="44.5" y2="511.5" stroke="#c6c6c6"/>
<line x1="139.5" y1="414.5" x2="139.5" y2="511.5" stroke="#c6c6c6"/>
<line x1="254.5" y1="414.5" x2="254.5" y2="511.5" stroke="#c6c6c6"/>
<line x1="359.5" y1="414.5" x2="359.5" y2="511.5" stroke="#c6c6c6"/>
<line x1="459.5" y1="414.5" x2="459.5" y2="511.5" stroke="#c6c6c6"/>
<line x1="569.5" y1="414.5" x2="569.5" y2="511.5" stroke="#c6c6c6"/>
<clipPath id="c3"><rect x="4" y="415" width="642" height="96"/></clipPath>
<g clip-path="url(#c3)">
<rect x="7.5" y="481.88" width="5" height="3.52" fill="#56a5d6" stroke="#2b5e9c" stroke-width="1"/>
<rect x="12.5" y="475.70" width="5" height="9.70" fill="#56a5d6" stroke="#2b5e9c" stroke-width="1"/>
<rect x="17.5" y="473.48" width="5" height="11.92" fill="#56a5d6" stroke="#2b5e9c" stroke-width="1"/>
<rect x="22.5" y="473.95" width="5" height="11.45" fill="#56a5d6" stroke="#2b5e9c" stroke-width="1"/>
<rect x="27.5" y="474.96" width="5" height="10.44" fill="#56a5d6" stroke="#2b5e9c" stroke-width="1"/>
<rect x="32.5" y="476.41" width="5" height="8.99" fill="#56a5d6" stroke="#2b5e9c" stroke-width="1"/>
<rect x="37.5" y="476.92" width="5" height="8.48" fill="#56a5d6" stroke="#2b5e9c" stroke-width="1"/>
<rect x="42.5" y="479.66" width="5" height="5.74" fill="#56a5d6" stroke="#2b5e9c" stroke-width="1"/>
<rect x="47.5" y="482.33" width="5" height="3.07" fill="#56a5d6" stroke="#2b5e9c" stroke-width="1"/>
<rect x="52.5" y="484.46" width="5" height="0.94" fill="#56a5d6" stroke="#2b5e9c" stroke-width="1"/>
<rect x="57.5" y="481.61" width="5" height="3.79" fill="#56a5d6" stroke="#2b5e9c" stroke-width="1"/>
<rect x="62.5" y="480.69" width="5" height="4.71" fill="#56a5d6" stroke="#2b5e9c" stroke-width="1"/>
<rect x="67.5" y="479.87" width="5" height="5.53" fill="#56a5d6" stroke="#2b5e9c" stroke-width="1"/>
<rect x="72.5" y="480.10" width="5" height="5.30" fill="#56a5d6" stroke="#2b5e9c" stroke-width="1"/>
<rect x="77.5" y="481.16" width="5" height="4.24" fill="#56a5d6" stroke="#2b5e9c" stroke-width="1"/>
<rect x="82.5" y="483.69" width="5" height="1.71" fill="#56a5d6" stroke="#2b5e9c" stroke-width="1"/>
<rect x="92.5" y="485.40" width="5" height="2.50" fill="#56a5d6" stroke="#2b5e9c" stroke-width="1"/>
<rect x="97.5" y="485.40" width="5" height="4.16" fill="#56a5d6" stroke="#2b5e9c" stroke-width="1"/>
<rect x="102.5" y="485.40" width="5" height="5.97" fill="#56a5d6" stroke="#2b5e9c" stroke-width="1"/>
<rect x="107.5" y="485.40" width="5" height="7.74" fill="#56a5d6" stroke="#2b5e9c" stroke-width="1"/>
<rect x="112.5" y="485.40" width="5" height="7.71" fill="#56a5d6" stroke="#2b5e9c" stroke-width="1"/>
<rect x="117.5" y="485.40" width="5" height="6.81" fill="#56a5d6" stroke="#2b5e9c" stroke-width="1"/>
<rect x="122.5" y="485.40" width="5" height="6.41" fill="#56a5d6" stroke="#2b5e9c" stroke-width="1"/>
<rect x="127.5" y="485.40" width="5" height="6.40" fill="#56a5d6" stroke="#2b5e9c" stroke-width="1"/>
<rect x="132.5" y="485.40" width="5" height="6.16" fill="#56a5d6" stroke="#2b5e9c" stroke-width="1"/>
<rect x="137.5" y="485.40" width="5" height="6.45" fill="#56a5d6" stroke="#2b5e9c" stroke-width="1"/>
<rect x="142.5" y="485.40" width="5" height="6.20" fill="#56a5d6" stroke="#2b5e9c" stroke-width="1"/>
<rect x="147.5" y="485.40" width="5" height="5.60" fill="#56a5d6" stroke="#2b5e9c" stroke-width="1"/>
<rect x="152.5" y="485.40" width="5" height="5.76" fill="#56a5d6" stroke="#2b5e9c" stroke-width="1"/>
<rect x="157.5" y="485.40" width="5" height="6.29" fill="#56a5d6" stroke="#2b5e9c" stroke-width="1"/>
<rect x="162.5" y="485.40" width="5" height="5.03" fill="#56a5d6" stroke="#2b5e9c" stroke-width="1"/>
<rect x="167.5" y="485.40" width="5" height="4.58" fill="#56a5d6" stroke="#2b5e9c" stroke-width="1"/>
<rect x="172.5" y="485.40" width="5" height="3.11" fill="#56a5d6" stroke="#2b5e9c" stroke-width="1"/>
<rect x="177.5" y="485.40" width="5" height="2.49" fill="#56a5d6" stroke="#2b5e9c" stroke-width="1"/>
<rect x="182.5" y="485.40" width="5" height="2.95" fill="#56a5d6" stroke="#2b5e9c" stroke-width="1"/>
<rect x="187.5" y="485.40" width="5" height="1.40" fill="#56a5d6" stroke="#2b5e9c" stroke-width="1"/>
<rect x="192.5" y="485.40" width="5" height="1.12" fill="#56a5d6" stroke="#2b5e9c" stroke-width="1"/>
<rect x="197.5" y="485.40" width="5" height="1.46" fill="#56a5d6" stroke="#2b5e9c" stroke-width="1"/>
<rect x="202.5" y="485.40" width="5" height="1.40" fill="#56a5d6" stroke="#2b5e9c" stroke-width="1"/>
<rect x="207.5" y="485.40" width="5" height="1.12" fill="#56a5d6" stroke="#2b5e9c" stroke-width="1"/>
<rect x="212.5" y="485.40" width="5" height="1.06" fill="#56a5d6" stroke="#2b5e9c" stroke-width="1"/>
<rect x="217.5" y="485.40" width="5" height="0.85" fill="#56a5d6" stroke="#2b5e9c" stroke-width="1"/>
<rect x="227.5" y="483.49" width="5" height="1.91" fill="#56a5d6" stroke="#2b5e9c" stroke-width="1"/>
<rect x="232.5" y="483.00" width="5" height="2.40" fill="#56a5d6" stroke="#2b5e9c" stroke-width="1"/>
<rect x="237.5" y="482.84" width="5" height="2.56" fill="#56a5d6" stroke="#2b5e9c" stroke-width="1"/>
<rect x="242.5" y="483.19" width="5" height="2.21" fill="#56a5d6" stroke="#2b5e9c" stroke-width="1"/>
<rect x="247.5" y="482.75" width="5" height="2.65" fill="#56a5d6" stroke="#2b5e9c" stroke-width="1"/>
<rect x="252.5" y="482.40" width="5" height="3.00" fill="#56a5d6" stroke="#2b5e9c" stroke-width="1"/>
<rect x="257.5" y="483.00" width="5" height="2.40" fill="#56a5d6" stroke="#2b5e9c" stroke-width="1"/>
<rect x="262.5" y="484.36" width="5" height="1.04" fill="#56a5d6" stroke="#2b5e9c" stroke-width="1"/>
<rect x="267.5" y="484.73" width="5" height="0.67" fill="#56a5d6" stroke="#2b5e9c" stroke-width="1"/>
<rect x="302.5" y="483.39" width="5" height="2.01" fill="#56a5d6" stroke="#2b5e9c" stroke-width="1"/>
<rect x="307.5" y="482.68" width="5" height="2.72" fill="#56a5d6" stroke="#2b5e9c" stroke-width="1"/>
<rect x="312.5" y="484.42" width="5" height="0.98" fill="#56a5d6" stroke="#2b5e9c" stroke-width="1"/>
<rect x="317.5" y="483.66" width="5" height="1.74" fill="#56a5d6" stroke="#2b5e9c" stroke-width="1"/>
<rect x="322.5" y="484.00" width="5" height="1.40" fill="#56a5d6" stroke="#2b5e9c" stroke-width="1"/>
<rect x="327.5" y="483.88" width="5" height="1.52" fill="#56a5d6" stroke="#2b5e9c" stroke-width="1"/>
<rect x="332.5" y="482.51" width="5" height="2.89" fill="#56a5d6" stroke="#2b5e9c" stroke-width="1"/>
<rect x="337.5" y="479.01" width="5" height="6.39" fill="#56a5d6" stroke="#2b5e9c" stroke-width="1"/>
<rect x="342.5" y="477.24" width="5" height="8.16" fill="#56a5d6" stroke="#2b5e9c" stroke-width="1"/>
<rect x="347.5" y="479.12" width="5" height="6.28" fill="#56a5d6" stroke="#2b5e9c" stroke-width="1"/>
<rect x="352.5" y="477.33" width="5" height="8.07" fill="#56a5d6" stroke="#2b5e9c" stroke-width="1"/>
<rect x="357.5" y="477.91" width="5" height="7.49" fill="#56a5d6" stroke="#2b5e9c" stroke-width="1"/>
<rect x="362.5" y="476.36" width="5" height="9.04" fill="#56a5d6" stroke="#2b5e9c" stroke-width="1"/>
<rect x="367.5" y="474.57" width="5" height="10.83" fill="#56a5d6" stroke="#2b5e9c" stroke-width="1"/>
<rect x="372.5" y="468.26" width="5" height="17.14" fill="#56a5d6" stroke="#2b5e9c" stroke-width="1"/>
<rect x="377.5" y="458.97" width="5" height="26.43" fill="#56a5d6" stroke="#2b5e9c" stroke-width="1"/>
<rect x="382.5" y="464.25" width="5" height="21.15" fill="#56a5d6" stroke="#2b5e9c" stroke-width="1"/>
<rect x="387.5" y="468.80" width="5" height="16.60" fill="#56a5d6" stroke="#2b5e9c" stroke-width="1"/>
<rect x="392.5" y="474.84" width="5" height="10.56" fill="#56a5d6" stroke="#2b5e9c" stroke-width="1"/>
<rect x="397.5" y="479.03" width="5" height="6.37" fill="#56a5d6" stroke="#2b5e9c" stroke-width="1"/>
<rect x="402.5" y="479.27" width="5" height="6.13" fill="#56a5d6" stroke="#2b5e9c" stroke-width="1"/>
<rect x="407.5" y="479.61" width="5" height="5.79" fill="#56a5d6" stroke="#2b5e9c" stroke-width="1"/>
<rect x="412.5" y="477.89" width="5" height="7.51" fill="#56a5d6" stroke="#2b5e9c" stroke-width="1"/>
<rect x="417.5" y="476.35" width="5" height="9.05" fill="#56a5d6" stroke="#2b5e9c" stroke-width="1"/>
<rect x="422.5" y="468.56" width="5" height="16.84" fill="#56a5d6" stroke="#2b5e9c" stroke-width="1"/>
<rect x="427.5" y="469.13" width="5" height="16.27" fill="#56a5d6" stroke="#2b5e9c" stroke-width="1"/>
<rect x="432.5" y="472.38" width="5" height="13.02" fill="#56a5d6" stroke="#2b5e9c" stroke-width="1"/>
<rect x="437.5" y="478.35" width="5" height="7.05" fill="#56a5d6" stroke="#2b5e9c" stroke-width="1"/>
<rect x="442.5" y="482.24" width="5" height="3.16" fill="#56a5d6" stroke="#2b5e9c" stroke-width="1"/>
<rect x="447.5" y="485.40" width="5" height="4.27" fill="#56a5d6" stroke="#2b5e9c" stroke-width="1"/>
<rect x="452.5" y="485.40" width="5" height="7.34" fill="#56a5d6" stroke="#2b5e9c" stroke-width="1"/>
<rect x="457.5" y="485.40" width="5" height="7.23" fill="#56a5d6" stroke="#2b5e9c" stroke-width="1"/>
<rect x="462.5" y="485.40" width="5" height="10.82" fill="#56a5d6" stroke="#2b5e9c" stroke-width="1"/>
<rect x="467.5" y="485.40" width="5" height="13.54" fill="#56a5d6" stroke="#2b5e9c" stroke-width="1"/>
<rect x="472.5" y="485.40" width="5" height="10.11" fill="#56a5d6" stroke="#2b5e9c" stroke-width="1"/>
<rect x="477.5" y="485.40" width="5" height="7.37" fill="#56a5d6" stroke="#2b5e9c" stroke-width="1"/>
<rect x="482.5" y="485.40" width="5" height="7.33" fill="#56a5d6" stroke="#2b5e9c" stroke-width="1"/>
<rect x="487.5" y="485.40" width="5" height="7.87" fill="#56a5d6" stroke="#2b5e9c" stroke-width="1"/>
<rect x="492.5" y="485.40" width="5" height="10.45" fill="#56a5d6" stroke="#2b5e9c" stroke-width="1"/>
<rect x="497.5" y="485.40" width="5" height="13.16" fill="#56a5d6" stroke="#2b5e9c" stroke-width="1"/>
<rect x="502.5" y="485.40" width="5" height="14.13" fill="#56a5d6" stroke="#2b5e9c" stroke-width="1"/>
<rect x="507.5" y="485.40" width="5" height="16.50" fill="#56a5d6" stroke="#2b5e9c" stroke-width="1"/>
<rect x="512.5" y="485.40" width="5" height="17.28" fill="#56a5d6" stroke="#2b5e9c" stroke-width="1"/>
<rect x="517.5" y="485.40" width="5" height="18.15" fill="#56a5d6" stroke="#2b5e9c" stroke-width="1"/>
<rect x="522.5" y="485.40" width="5" height="17.96" fill="#56a5d6" stroke="#2b5e9c" stroke-width="1"/>
<rect x="527.5" y="485.40" width="5" height="17.01" fill="#56a5d6" stroke="#2b5e9c" stroke-width="1"/>
<rect x="532.5" y="485.40" width="5" height="13.92" fill="#56a5d6" stroke="#2b5e9c" stroke-width="1"/>
<rect x="537.5" y="485.40" width="5" height="10.82" fill="#56a5d6" stroke="#2b5e9c" stroke-width="1"/>
<rect x="542.5" y="485.40" width="5" height="6.02" fill="#56a5d6" stroke="#2b5e9c" stroke-width="1"/>
<rect x="547.5" y="485.40" width="5" height="3.53" fill="#56a5d6" stroke="#2b5e9c" stroke-width="1"/>
<rect x="552.5" y="485.40" width="5" height="1.95" fill="#56a5d6" stroke="#2b5e9c" stroke-width="1"/>
<rect x="557.5" y="481.36" width="5" height="4.04" fill="#56a5d6" stroke="#2b5e9c" stroke-width="1"/>
<rect x="562.5" y="478.33" width="5" height="7.07" fill="#56a5d6" stroke="#2b5e9c" stroke-width="1"/>
<rect x="567.5" y="477.74" width="5" height="7.66" fill="#56a5d6" stroke="#2b5e9c" stroke-width="1"/>
<rect x="572.5" y="479.59" width="5" height="5.81" fill="#56a5d6" stroke="#2b5e9c" stroke-width="1"/>
<rect x="577.5" y="481.79" width="5" height="3.61" fill="#56a5d6" stroke="#2b5e9c" stroke-width="1"/>
<rect x="587.5" y="485.40" width="5" height="3.13" fill="#56a5d6" stroke="#2b5e9c" stroke-width="1"/>
<rect x="592.5" y="485.40" width="5" height="5.87" fill="#56a5d6" stroke="#2b5e9c" stroke-width="1"/>
<rect x="597.5" y="485.40" width="5" height="7.97" fill="#56a5d6" stroke="#2b5e9c" stroke-width="1"/>
<rect x="602.5" y="485.40" width="5" height="8.14" fill="#56a5d6" stroke="#2b5e9c" stroke-width="1"/>
<rect x="607.5" y="485.40" width="5" height="8.11" fill="#56a5d6" stroke="#2b5e9c" stroke-width="1"/>
<rect x="612.5" y="485.40" width="5" height="6.41" fill="#56a5d6" stroke="#2b5e9c" stroke-width="1"/>
<rect x="617.5" y="485.40" width="5" height="4.97" fill="#56a5d6" stroke="#2b5e9c" stroke-width="1"/>
<rect x="622.5" y="485.40" width="5" height="3.25" fill="#56a5d6" stroke="#2b5e9c" stroke-width="1"/>
<rect x="627.5" y="485.40" width="5" height="4.04" fill="#56a5d6" stroke="#2b5e9c" stroke-width="1"/>
<rect x="632.5" y="485.40" width="5" height="2.67" fill="#56a5d6" stroke="#2b5e9c" stroke-width="1"/>
<rect x="637.5" y="485.40" width="5" height="2.14" fill="#56a5d6" stroke="#2b5e9c" stroke-width="1"/>
<line x1="4" y1="485.4" x2="646" y2="485.4" stroke="#2b5e9c" />
<polyline points="4.50,497.00 9.50,496.12 14.50,493.70 19.50,490.72 24.50,487.85 29.50,485.24 34.50,482.99 39.50,480.88 44.50,479.44 49.50,478.67 54.50,478.44 59.50,477.49 64.50,476.31 69.50,474.93 74.50,473.60 79.50,472.54 84.50,472.11 89.50,472.17 94.50,472.80 99.50,473.84 104.50,475.33 109.50,477.26 114.50,479.19 119.50,480.89 124.50,482.49 129.50,484.10 134.50,485.64 139.50,487.25 144.50,488.80 149.50,490.20 154.50,491.64 159.50,493.21 164.50,494.47 169.50,495.62 174.50,496.39 179.50,497.01 184.50,497.75 189.50,498.10 194.50,498.38 199.50,498.74 204.50,499.10 209.50,499.38 214.50,499.64 219.50,499.85 224.50,499.78 229.50,499.31 234.50,498.70 239.50,498.06 244.50,497.51 249.50,496.85 254.50,496.10 259.50,495.50 264.50,495.24 269.50,495.07 274.50,494.94 279.50,494.83 284.50,494.92 289.50,495.00 294.50,495.06 299.50,495.11 304.50,494.61 309.50,493.92 314.50,493.68 319.50,493.24 324.50,492.90 329.50,492.52 334.50,491.79 339.50,490.19 344.50,488.16 349.50,486.58 354.50,484.57 359.50,482.69 364.50,480.44 369.50,477.73 374.50,473.44 379.50,466.83 384.50,461.55 389.50,457.40 394.50,454.76 399.50,453.17 404.50,451.63 409.50,450.19 414.50,448.31 419.50,446.05 424.50,441.84 429.50,437.77 434.50,434.52 439.50,432.75 444.50,431.96 449.50,433.03 454.50,434.86 459.50,436.67 464.50,439.38 469.50,442.76 474.50,445.29 479.50,447.13 484.50,448.97 489.50,450.93 494.50,453.55 499.50,456.84 504.50,460.37 509.50,464.50 514.50,468.82 519.50,473.35 524.50,477.84 529.50,482.09 534.50,485.58 539.50,488.28 544.50,489.78 549.50,490.67 554.50,491.15 559.50,490.14 564.50,488.37 569.50,486.46 574.50,485.01 579.50,484.11 584.50,484.08 589.50,484.87 594.50,486.33 599.50,488.33 604.50,490.36 609.50,492.39 614.50,493.99 619.50,495.23 624.50,496.05 629.50,497.06 634.50,497.73 639.50,498.26" fill="none" stroke="#ff0000" stroke-width="1.2" stroke-linejoin="round" stroke-linecap="round" />
<polyline points="4.50,496.60 9.50,492.60 14.50,484.00 19.50,478.80 24.50,476.40 29.50,474.80 34.50,474.00 39.50,472.40 44.50,473.70 49.50,475.60 54.50,477.50 59.50,473.70 64.50,471.60 69.50,469.40 74.50,468.30 79.50,468.30 84.50,470.40 89.50,472.40 94.50,475.30 99.50,478.00 104.50,481.30 109.50,485.00 114.50,486.90 119.50,487.70 124.50,488.90 129.50,490.50 134.50,491.80 139.50,493.70 144.50,495.00 149.50,495.80 154.50,497.40 159.50,499.50 164.50,499.50 169.50,500.20 174.50,499.50 179.50,499.50 184.50,500.70 189.50,499.50 194.50,499.50 199.50,500.20 204.50,500.50 209.50,500.50 214.50,500.70 219.50,500.70 224.50,499.50 229.50,497.40 234.50,496.30 239.50,495.50 244.50,495.30 249.50,494.20 254.50,493.10 259.50,493.10 264.50,494.20 269.50,494.40 274.50,494.40 279.50,494.40 284.50,495.30 289.50,495.30 294.50,495.30 299.50,495.30 304.50,492.60 309.50,491.20 314.50,492.70 319.50,491.50 324.50,491.50 329.50,491.00 334.50,488.90 339.50,483.80 344.50,480.00 349.50,480.30 354.50,476.50 359.50,475.20 364.50,471.40 369.50,466.90 374.50,456.30 379.50,440.40 384.50,440.40 389.50,440.80 394.50,444.20 399.50,446.80 404.50,445.50 409.50,444.40 414.50,440.80 419.50,437.00 424.50,425.00 429.50,421.50 434.50,421.50 439.50,425.70 444.50,428.80 449.50,437.30 454.50,442.20 459.50,443.90 464.50,450.20 469.50,456.30 474.50,455.40 479.50,454.50 484.50,456.30 489.50,458.80 494.50,464.00 499.50,470.00 504.50,474.50 509.50,481.00 514.50,486.10 519.50,491.50 524.50,495.80 529.50,499.10 534.50,499.50 539.50,499.10 544.50,495.80 549.50,494.20 554.50,493.10 559.50,486.10 564.50,481.30 569.50,478.80 574.50,479.20 579.50,480.50 584.50,484.00 589.50,488.00 594.50,492.20 599.50,496.30 604.50,498.50 609.50,500.50 614.50,500.40 619.50,500.20 624.50,499.30 629.50,501.10 634.50,500.40 639.50,500.40" fill="none" stroke="#000" stroke-width="1.8" stroke-linejoin="round" stroke-linecap="round" />
</g>
<rect x="4" y="415" width="232" height="12" fill="#fff"/>
<rect x="6" y="420" width="9" height="2" fill="#000"/>
<text x="18.0" y="425" font-family="'Liberation Sans', sans-serif" font-size="10.2" fill="#000" font-weight="normal" text-anchor="start" textLength="85.0" lengthAdjust="spacing" >MACD(12,26,9)</text>
<text x="107.3" y="425" font-family="'Liberation Sans', sans-serif" font-size="10.2" fill="#000" font-weight="normal" text-anchor="start" textLength="36.8" lengthAdjust="spacing" >-1.225</text>
<text x="144.0" y="425" font-family="'Liberation Sans', sans-serif" font-size="10.2" fill="#f00" font-weight="normal" text-anchor="start" >,</text>
<text x="152.1" y="425" font-family="'Liberation Sans', sans-serif" font-size="10.2" fill="#f00" font-weight="normal" text-anchor="start" textLength="36.80000000000001" lengthAdjust="spacing" >-1.037</text>
<text x="189.0" y="425" font-family="'Liberation Sans', sans-serif" font-size="10.2" fill="#3b96c8" font-weight="normal" text-anchor="start" >,</text>
<text x="197.3" y="425" font-family="'Liberation Sans', sans-serif" font-size="10.2" fill="#3b96c8" font-weight="normal" text-anchor="start" textLength="36.39999999999998" lengthAdjust="spacing" >-0.189</text>
<rect x="3.5" y="26.5" width="643.0" height="97.0" fill="none" stroke="#bababa"/>
<rect x="3.5" y="123.5" width="643.0" height="276.0" fill="none" stroke="#bababa"/>
<rect x="3.5" y="414.5" width="643.0" height="97.0" fill="none" stroke="#bababa"/>
<line x1="4.5" y1="400" x2="4.5" y2="402" stroke="#cacaca"/>
<line x1="4.5" y1="412" x2="4.5" y2="414" stroke="#cacaca"/>
<line x1="4.5" y1="512" x2="4.5" y2="514" stroke="#cacaca"/>
<line x1="9.5" y1="400" x2="9.5" y2="402" stroke="#cacaca"/>
<line x1="9.5" y1="412" x2="9.5" y2="414" stroke="#cacaca"/>
<line x1="9.5" y1="512" x2="9.5" y2="514" stroke="#cacaca"/>
<line x1="14.5" y1="400" x2="14.5" y2="402" stroke="#cacaca"/>
<line x1="14.5" y1="412" x2="14.5" y2="414" stroke="#cacaca"/>
<line x1="14.5" y1="512" x2="14.5" y2="514" stroke="#cacaca"/>
<line x1="19.5" y1="400" x2="19.5" y2="402" stroke="#cacaca"/>
<line x1="19.5" y1="412" x2="19.5" y2="414" stroke="#cacaca"/>
<line x1="19.5" y1="512" x2="19.5" y2="514" stroke="#cacaca"/>
<line x1="24.5" y1="400" x2="24.5" y2="402" stroke="#cacaca"/>
<line x1="24.5" y1="412" x2="24.5" y2="414" stroke="#cacaca"/>
<line x1="24.5" y1="512" x2="24.5" y2="514" stroke="#cacaca"/>
<line x1="29.5" y1="400" x2="29.5" y2="402" stroke="#cacaca"/>
<line x1="29.5" y1="412" x2="29.5" y2="414" stroke="#cacaca"/>
<line x1="29.5" y1="512" x2="29.5" y2="514" stroke="#cacaca"/>
<line x1="34.5" y1="400" x2="34.5" y2="402" stroke="#cacaca"/>
<line x1="34.5" y1="412" x2="34.5" y2="414" stroke="#cacaca"/>
<line x1="34.5" y1="512" x2="34.5" y2="514" stroke="#cacaca"/>
<line x1="39.5" y1="400" x2="39.5" y2="402" stroke="#cacaca"/>
<line x1="39.5" y1="412" x2="39.5" y2="414" stroke="#cacaca"/>
<line x1="39.5" y1="512" x2="39.5" y2="514" stroke="#cacaca"/>
<line x1="44.5" y1="400" x2="44.5" y2="402" stroke="#cacaca"/>
<line x1="44.5" y1="412" x2="44.5" y2="414" stroke="#cacaca"/>
<line x1="44.5" y1="512" x2="44.5" y2="514" stroke="#cacaca"/>
<line x1="49.5" y1="400" x2="49.5" y2="402" stroke="#cacaca"/>
<line x1="49.5" y1="412" x2="49.5" y2="414" stroke="#cacaca"/>
<line x1="49.5" y1="512" x2="49.5" y2="514" stroke="#cacaca"/>
<line x1="54.5" y1="400" x2="54.5" y2="402" stroke="#cacaca"/>
<line x1="54.5" y1="412" x2="54.5" y2="414" stroke="#cacaca"/>
<line x1="54.5" y1="512" x2="54.5" y2="514" stroke="#cacaca"/>
<line x1="59.5" y1="400" x2="59.5" y2="402" stroke="#cacaca"/>
<line x1="59.5" y1="412" x2="59.5" y2="414" stroke="#cacaca"/>
<line x1="59.5" y1="512" x2="59.5" y2="514" stroke="#cacaca"/>
<line x1="64.5" y1="400" x2="64.5" y2="402" stroke="#cacaca"/>
<line x1="64.5" y1="412" x2="64.5" y2="414" stroke="#cacaca"/>
<line x1="64.5" y1="512" x2="64.5" y2="514" stroke="#cacaca"/>
<line x1="69.5" y1="400" x2="69.5" y2="402" stroke="#cacaca"/>
<line x1="69.5" y1="412" x2="69.5" y2="414" stroke="#cacaca"/>
<line x1="69.5" y1="512" x2="69.5" y2="514" stroke="#cacaca"/>
<line x1="74.5" y1="400" x2="74.5" y2="402" stroke="#cacaca"/>
<line x1="74.5" y1="412" x2="74.5" y2="414" stroke="#cacaca"/>
<line x1="74.5" y1="512" x2="74.5" y2="514" stroke="#cacaca"/>
<line x1="79.5" y1="400" x2="79.5" y2="402" stroke="#cacaca"/>
<line x1="79.5" y1="412" x2="79.5" y2="414" stroke="#cacaca"/>
<line x1="79.5" y1="512" x2="79.5" y2="514" stroke="#cacaca"/>
<line x1="84.5" y1="400" x2="84.5" y2="402" stroke="#cacaca"/>
<line x1="84.5" y1="412" x2="84.5" y2="414" stroke="#cacaca"/>
<line x1="84.5" y1="512" x2="84.5" y2="514" stroke="#cacaca"/>
<line x1="89.5" y1="400" x2="89.5" y2="402" stroke="#cacaca"/>
<line x1="89.5" y1="412" x2="89.5" y2="414" stroke="#cacaca"/>
<line x1="89.5" y1="512" x2="89.5" y2="514" stroke="#cacaca"/>
<line x1="94.5" y1="400" x2="94.5" y2="402" stroke="#cacaca"/>
<line x1="94.5" y1="412" x2="94.5" y2="414" stroke="#cacaca"/>
<line x1="94.5" y1="512" x2="94.5" y2="514" stroke="#cacaca"/>
<line x1="99.5" y1="400" x2="99.5" y2="402" stroke="#cacaca"/>
<line x1="99.5" y1="412" x2="99.5" y2="414" stroke="#cacaca"/>
<line x1="99.5" y1="512" x2="99.5" y2="514" stroke="#cacaca"/>
<line x1="104.5" y1="400" x2="104.5" y2="402" stroke="#cacaca"/>
<line x1="104.5" y1="412" x2="104.5" y2="414" stroke="#cacaca"/>
<line x1="104.5" y1="512" x2="104.5" y2="514" stroke="#cacaca"/>
<line x1="109.5" y1="400" x2="109.5" y2="402" stroke="#cacaca"/>
<line x1="109.5" y1="412" x2="109.5" y2="414" stroke="#cacaca"/>
<line x1="109.5" y1="512" x2="109.5" y2="514" stroke="#cacaca"/>
<line x1="114.5" y1="400" x2="114.5" y2="402" stroke="#cacaca"/>
<line x1="114.5" y1="412" x2="114.5" y2="414" stroke="#cacaca"/>
<line x1="114.5" y1="512" x2="114.5" y2="514" stroke="#cacaca"/>
<line x1="119.5" y1="400" x2="119.5" y2="402" stroke="#cacaca"/>
<line x1="119.5" y1="412" x2="119.5" y2="414" stroke="#cacaca"/>
<line x1="119.5" y1="512" x2="119.5" y2="514" stroke="#cacaca"/>
<line x1="124.5" y1="400" x2="124.5" y2="402" stroke="#cacaca"/>
<line x1="124.5" y1="412" x2="124.5" y2="414" stroke="#cacaca"/>
<line x1="124.5" y1="512" x2="124.5" y2="514" stroke="#cacaca"/>
<line x1="129.5" y1="400" x2="129.5" y2="402" stroke="#cacaca"/>
<line x1="129.5" y1="412" x2="129.5" y2="414" stroke="#cacaca"/>
<line x1="129.5" y1="512" x2="129.5" y2="514" stroke="#cacaca"/>
<line x1="134.5" y1="400" x2="134.5" y2="402" stroke="#cacaca"/>
<line x1="134.5" y1="412" x2="134.5" y2="414" stroke="#cacaca"/>
<line x1="134.5" y1="512" x2="134.5" y2="514" stroke="#cacaca"/>
<line x1="139.5" y1="400" x2="139.5" y2="402" stroke="#cacaca"/>
<line x1="139.5" y1="412" x2="139.5" y2="414" stroke="#cacaca"/>
<line x1="139.5" y1="512" x2="139.5" y2="514" stroke="#cacaca"/>
<line x1="144.5" y1="400" x2="144.5" y2="402" stroke="#cacaca"/>
<line x1="144.5" y1="412" x2="144.5" y2="414" stroke="#cacaca"/>
<line x1="144.5" y1="512" x2="144.5" y2="514" stroke="#cacaca"/>
<line x1="149.5" y1="400" x2="149.5" y2="402" stroke="#cacaca"/>
<line x1="149.5" y1="412" x2="149.5" y2="414" stroke="#cacaca"/>
<line x1="149.5" y1="512" x2="149.5" y2="514" stroke="#cacaca"/>
<line x1="154.5" y1="400" x2="154.5" y2="402" stroke="#cacaca"/>
<line x1="154.5" y1="412" x2="154.5" y2="414" stroke="#cacaca"/>
<line x1="154.5" y1="512" x2="154.5" y2="514" stroke="#cacaca"/>
<line x1="159.5" y1="400" x2="159.5" y2="402" stroke="#cacaca"/>
<line x1="159.5" y1="412" x2="159.5" y2="414" stroke="#cacaca"/>
<line x1="159.5" y1="512" x2="159.5" y2="514" stroke="#cacaca"/>
<line x1="164.5" y1="400" x2="164.5" y2="402" stroke="#cacaca"/>
<line x1="164.5" y1="412" x2="164.5" y2="414" stroke="#cacaca"/>
<line x1="164.5" y1="512" x2="164.5" y2="514" stroke="#cacaca"/>
<line x1="169.5" y1="400" x2="169.5" y2="402" stroke="#cacaca"/>
<line x1="169.5" y1="412" x2="169.5" y2="414" stroke="#cacaca"/>
<line x1="169.5" y1="512" x2="169.5" y2="514" stroke="#cacaca"/>
<line x1="174.5" y1="400" x2="174.5" y2="402" stroke="#cacaca"/>
<line x1="174.5" y1="412" x2="174.5" y2="414" stroke="#cacaca"/>
<line x1="174.5" y1="512" x2="174.5" y2="514" stroke="#cacaca"/>
<line x1="179.5" y1="400" x2="179.5" y2="402" stroke="#cacaca"/>
<line x1="179.5" y1="412" x2="179.5" y2="414" stroke="#cacaca"/>
<line x1="179.5" y1="512" x2="179.5" y2="514" stroke="#cacaca"/>
<line x1="184.5" y1="400" x2="184.5" y2="402" stroke="#cacaca"/>
<line x1="184.5" y1="412" x2="184.5" y2="414" stroke="#cacaca"/>
<line x1="184.5" y1="512" x2="184.5" y2="514" stroke="#cacaca"/>
<line x1="189.5" y1="400" x2="189.5" y2="402" stroke="#cacaca"/>
<line x1="189.5" y1="412" x2="189.5" y2="414" stroke="#cacaca"/>
<line x1="189.5" y1="512" x2="189.5" y2="514" stroke="#cacaca"/>
<line x1="194.5" y1="400" x2="194.5" y2="402" stroke="#cacaca"/>
<line x1="194.5" y1="412" x2="194.5" y2="414" stroke="#cacaca"/>
<line x1="194.5" y1="512" x2="194.5" y2="514" stroke="#cacaca"/>
<line x1="199.5" y1="400" x2="199.5" y2="402" stroke="#cacaca"/>
<line x1="199.5" y1="412" x2="199.5" y2="414" stroke="#cacaca"/>
<line x1="199.5" y1="512" x2="199.5" y2="514" stroke="#cacaca"/>
<line x1="204.5" y1="400" x2="204.5" y2="402" stroke="#cacaca"/>
<line x1="204.5" y1="412" x2="204.5" y2="414" stroke="#cacaca"/>
<line x1="204.5" y1="512" x2="204.5" y2="514" stroke="#cacaca"/>
<line x1="209.5" y1="400" x2="209.5" y2="402" stroke="#cacaca"/>
<line x1="209.5" y1="412" x2="209.5" y2="414" stroke="#cacaca"/>
<line x1="209.5" y1="512" x2="209.5" y2="514" stroke="#cacaca"/>
<line x1="214.5" y1="400" x2="214.5" y2="402" stroke="#cacaca"/>
<line x1="214.5" y1="412" x2="214.5" y2="414" stroke="#cacaca"/>
<line x1="214.5" y1="512" x2="214.5" y2="514" stroke="#cacaca"/>
<line x1="219.5" y1="400" x2="219.5" y2="402" stroke="#cacaca"/>
<line x1="219.5" y1="412" x2="219.5" y2="414" stroke="#cacaca"/>
<line x1="219.5" y1="512" x2="219.5" y2="514" stroke="#cacaca"/>
<line x1="224.5" y1="400" x2="224.5" y2="402" stroke="#cacaca"/>
<line x1="224.5" y1="412" x2="224.5" y2="414" stroke="#cacaca"/>
<line x1="224.5" y1="512" x2="224.5" y2="514" stroke="#cacaca"/>
<line x1="229.5" y1="400" x2="229.5" y2="402" stroke="#cacaca"/>
<line x1="229.5" y1="412" x2="229.5" y2="414" stroke="#cacaca"/>
<line x1="229.5" y1="512" x2="229.5" y2="514" stroke="#cacaca"/>
<line x1="234.5" y1="400" x2="234.5" y2="402" stroke="#cacaca"/>
<line x1="234.5" y1="412" x2="234.5" y2="414" stroke="#cacaca"/>
<line x1="234.5" y1="512" x2="234.5" y2="514" stroke="#cacaca"/>
<line x1="239.5" y1="400" x2="239.5" y2="402" stroke="#cacaca"/>
<line x1="239.5" y1="412" x2="239.5" y2="414" stroke="#cacaca"/>
<line x1="239.5" y1="512" x2="239.5" y2="514" stroke="#cacaca"/>
<line x1="244.5" y1="400" x2="244.5" y2="402" stroke="#cacaca"/>
<line x1="244.5" y1="412" x2="244.5" y2="414" stroke="#cacaca"/>
<line x1="244.5" y1="512" x2="244.5" y2="514" stroke="#cacaca"/>
<line x1="249.5" y1="400" x2="249.5" y2="402" stroke="#cacaca"/>
<line x1="249.5" y1="412" x2="249.5" y2="414" stroke="#cacaca"/>
<line x1="249.5" y1="512" x2="249.5" y2="514" stroke="#cacaca"/>
<line x1="254.5" y1="400" x2="254.5" y2="402" stroke="#cacaca"/>
<line x1="254.5" y1="412" x2="254.5" y2="414" stroke="#cacaca"/>
<line x1="254.5" y1="512" x2="254.5" y2="514" stroke="#cacaca"/>
<line x1="259.5" y1="400" x2="259.5" y2="402" stroke="#cacaca"/>
<line x1="259.5" y1="412" x2="259.5" y2="414" stroke="#cacaca"/>
<line x1="259.5" y1="512" x2="259.5" y2="514" stroke="#cacaca"/>
<line x1="264.5" y1="400" x2="264.5" y2="402" stroke="#cacaca"/>
<line x1="264.5" y1="412" x2="264.5" y2="414" stroke="#cacaca"/>
<line x1="264.5" y1="512" x2="264.5" y2="514" stroke="#cacaca"/>
<line x1="269.5" y1="400" x2="269.5" y2="402" stroke="#cacaca"/>
<line x1="269.5" y1="412" x2="269.5" y2="414" stroke="#cacaca"/>
<line x1="269.5" y1="512" x2="269.5" y2="514" stroke="#cacaca"/>
<line x1="274.5" y1="400" x2="274.5" y2="402" stroke="#cacaca"/>
<line x1="274.5" y1="412" x2="274.5" y2="414" stroke="#cacaca"/>
<line x1="274.5" y1="512" x2="274.5" y2="514" stroke="#cacaca"/>
<line x1="279.5" y1="400" x2="279.5" y2="402" stroke="#cacaca"/>
<line x1="279.5" y1="412" x2="279.5" y2="414" stroke="#cacaca"/>
<line x1="279.5" y1="512" x2="279.5" y2="514" stroke="#cacaca"/>
<line x1="284.5" y1="400" x2="284.5" y2="402" stroke="#cacaca"/>
<line x1="284.5" y1="412" x2="284.5" y2="414" stroke="#cacaca"/>
<line x1="284.5" y1="512" x2="284.5" y2="514" stroke="#cacaca"/>
<line x1="289.5" y1="400" x2="289.5" y2="402" stroke="#cacaca"/>
<line x1="289.5" y1="412" x2="289.5" y2="414" stroke="#cacaca"/>
<line x1="289.5" y1="512" x2="289.5" y2="514" stroke="#cacaca"/>
<line x1="294.5" y1="400" x2="294.5" y2="402" stroke="#cacaca"/>
<line x1="294.5" y1="412" x2="294.5" y2="414" stroke="#cacaca"/>
<line x1="294.5" y1="512" x2="294.5" y2="514" stroke="#cacaca"/>
<line x1="299.5" y1="400" x2="299.5" y2="402" stroke="#cacaca"/>
<line x1="299.5" y1="412" x2="299.5" y2="414" stroke="#cacaca"/>
<line x1="299.5" y1="512" x2="299.5" y2="514" stroke="#cacaca"/>
<line x1="304.5" y1="400" x2="304.5" y2="402" stroke="#cacaca"/>
<line x1="304.5" y1="412" x2="304.5" y2="414" stroke="#cacaca"/>
<line x1="304.5" y1="512" x2="304.5" y2="514" stroke="#cacaca"/>
<line x1="309.5" y1="400" x2="309.5" y2="402" stroke="#cacaca"/>
<line x1="309.5" y1="412" x2="309.5" y2="414" stroke="#cacaca"/>
<line x1="309.5" y1="512" x2="309.5" y2="514" stroke="#cacaca"/>
<line x1="314.5" y1="400" x2="314.5" y2="402" stroke="#cacaca"/>
<line x1="314.5" y1="412" x2="314.5" y2="414" stroke="#cacaca"/>
<line x1="314.5" y1="512" x2="314.5" y2="514" stroke="#cacaca"/>
<line x1="319.5" y1="400" x2="319.5" y2="402" stroke="#cacaca"/>
<line x1="319.5" y1="412" x2="319.5" y2="414" stroke="#cacaca"/>
<line x1="319.5" y1="512" x2="319.5" y2="514" stroke="#cacaca"/>
<line x1="324.5" y1="400" x2="324.5" y2="402" stroke="#cacaca"/>
<line x1="324.5" y1="412" x2="324.5" y2="414" stroke="#cacaca"/>
<line x1="324.5" y1="512" x2="324.5" y2="514" stroke="#cacaca"/>
<line x1="329.5" y1="400" x2="329.5" y2="402" stroke="#cacaca"/>
<line x1="329.5" y1="412" x2="329.5" y2="414" stroke="#cacaca"/>
<line x1="329.5" y1="512" x2="329.5" y2="514" stroke="#cacaca"/>
<line x1="334.5" y1="400" x2="334.5" y2="402" stroke="#cacaca"/>
<line x1="334.5" y1="412" x2="334.5" y2="414" stroke="#cacaca"/>
<line x1="334.5" y1="512" x2="334.5" y2="514" stroke="#cacaca"/>
<line x1="339.5" y1="400" x2="339.5" y2="402" stroke="#cacaca"/>
<line x1="339.5" y1="412" x2="339.5" y2="414" stroke="#cacaca"/>
<line x1="339.5" y1="512" x2="339.5" y2="514" stroke="#cacaca"/>
<line x1="344.5" y1="400" x2="344.5" y2="402" stroke="#cacaca"/>
<line x1="344.5" y1="412" x2="344.5" y2="414" stroke="#cacaca"/>
<line x1="344.5" y1="512" x2="344.5" y2="514" stroke="#cacaca"/>
<line x1="349.5" y1="400" x2="349.5" y2="402" stroke="#cacaca"/>
<line x1="349.5" y1="412" x2="349.5" y2="414" stroke="#cacaca"/>
<line x1="349.5" y1="512" x2="349.5" y2="514" stroke="#cacaca"/>
<line x1="354.5" y1="400" x2="354.5" y2="402" stroke="#cacaca"/>
<line x1="354.5" y1="412" x2="354.5" y2="414" stroke="#cacaca"/>
<line x1="354.5" y1="512" x2="354.5" y2="514" stroke="#cacaca"/>
<line x1="359.5" y1="400" x2="359.5" y2="402" stroke="#cacaca"/>
<line x1="359.5" y1="412" x2="359.5" y2="414" stroke="#cacaca"/>
<line x1="359.5" y1="512" x2="359.5" y2="514" stroke="#cacaca"/>
<line x1="364.5" y1="400" x2="364.5" y2="402" stroke="#cacaca"/>
<line x1="364.5" y1="412" x2="364.5" y2="414" stroke="#cacaca"/>
<line x1="364.5" y1="512" x2="364.5" y2="514" stroke="#cacaca"/>
<line x1="369.5" y1="400" x2="369.5" y2="402" stroke="#cacaca"/>
<line x1="369.5" y1="412" x2="369.5" y2="414" stroke="#cacaca"/>
<line x1="369.5" y1="512" x2="369.5" y2="514" stroke="#cacaca"/>
<line x1="374.5" y1="400" x2="374.5" y2="402" stroke="#cacaca"/>
<line x1="374.5" y1="412" x2="374.5" y2="414" stroke="#cacaca"/>
<line x1="374.5" y1="512" x2="374.5" y2="514" stroke="#cacaca"/>
<line x1="379.5" y1="400" x2="379.5" y2="402" stroke="#cacaca"/>
<line x1="379.5" y1="412" x2="379.5" y2="414" stroke="#cacaca"/>
<line x1="379.5" y1="512" x2="379.5" y2="514" stroke="#cacaca"/>
<line x1="384.5" y1="400" x2="384.5" y2="402" stroke="#cacaca"/>
<line x1="384.5" y1="412" x2="384.5" y2="414" stroke="#cacaca"/>
<line x1="384.5" y1="512" x2="384.5" y2="514" stroke="#cacaca"/>
<line x1="389.5" y1="400" x2="389.5" y2="402" stroke="#cacaca"/>
<line x1="389.5" y1="412" x2="389.5" y2="414" stroke="#cacaca"/>
<line x1="389.5" y1="512" x2="389.5" y2="514" stroke="#cacaca"/>
<line x1="394.5" y1="400" x2="394.5" y2="402" stroke="#cacaca"/>
<line x1="394.5" y1="412" x2="394.5" y2="414" stroke="#cacaca"/>
<line x1="394.5" y1="512" x2="394.5" y2="514" stroke="#cacaca"/>
<line x1="399.5" y1="400" x2="399.5" y2="402" stroke="#cacaca"/>
<line x1="399.5" y1="412" x2="399.5" y2="414" stroke="#cacaca"/>
<line x1="399.5" y1="512" x2="399.5" y2="514" stroke="#cacaca"/>
<line x1="404.5" y1="400" x2="404.5" y2="402" stroke="#cacaca"/>
<line x1="404.5" y1="412" x2="404.5" y2="414" stroke="#cacaca"/>
<line x1="404.5" y1="512" x2="404.5" y2="514" stroke="#cacaca"/>
<line x1="409.5" y1="400" x2="409.5" y2="402" stroke="#cacaca"/>
<line x1="409.5" y1="412" x2="409.5" y2="414" stroke="#cacaca"/>
<line x1="409.5" y1="512" x2="409.5" y2="514" stroke="#cacaca"/>
<line x1="414.5" y1="400" x2="414.5" y2="402" stroke="#cacaca"/>
<line x1="414.5" y1="412" x2="414.5" y2="414" stroke="#cacaca"/>
<line x1="414.5" y1="512" x2="414.5" y2="514" stroke="#cacaca"/>
<line x1="419.5" y1="400" x2="419.5" y2="402" stroke="#cacaca"/>
<line x1="419.5" y1="412" x2="419.5" y2="414" stroke="#cacaca"/>
<line x1="419.5" y1="512" x2="419.5" y2="514" stroke="#cacaca"/>
<line x1="424.5" y1="400" x2="424.5" y2="402" stroke="#cacaca"/>
<line x1="424.5" y1="412" x2="424.5" y2="414" stroke="#cacaca"/>
<line x1="424.5" y1="512" x2="424.5" y2="514" stroke="#cacaca"/>
<line x1="429.5" y1="400" x2="429.5" y2="402" stroke="#cacaca"/>
<line x1="429.5" y1="412" x2="429.5" y2="414" stroke="#cacaca"/>
<line x1="429.5" y1="512" x2="429.5" y2="514" stroke="#cacaca"/>
<line x1="434.5" y1="400" x2="434.5" y2="402" stroke="#cacaca"/>
<line x1="434.5" y1="412" x2="434.5" y2="414" stroke="#cacaca"/>
<line x1="434.5" y1="512" x2="434.5" y2="514" stroke="#cacaca"/>
<line x1="439.5" y1="400" x2="439.5" y2="402" stroke="#cacaca"/>
<line x1="439.5" y1="412" x2="439.5" y2="414" stroke="#cacaca"/>
<line x1="439.5" y1="512" x2="439.5" y2="514" stroke="#cacaca"/>
<line x1="444.5" y1="400" x2="444.5" y2="402" stroke="#cacaca"/>
<line x1="444.5" y1="412" x2="444.5" y2="414" stroke="#cacaca"/>
<line x1="444.5" y1="512" x2="444.5" y2="514" stroke="#cacaca"/>
<line x1="449.5" y1="400" x2="449.5" y2="402" stroke="#cacaca"/>
<line x1="449.5" y1="412" x2="449.5" y2="414" stroke="#cacaca"/>
<line x1="449.5" y1="512" x2="449.5" y2="514" stroke="#cacaca"/>
<line x1="454.5" y1="400" x2="454.5" y2="402" stroke="#cacaca"/>
<line x1="454.5" y1="412" x2="454.5" y2="414" stroke="#cacaca"/>
<line x1="454.5" y1="512" x2="454.5" y2="514" stroke="#cacaca"/>
<line x1="459.5" y1="400" x2="459.5" y2="402" stroke="#cacaca"/>
<line x1="459.5" y1="412" x2="459.5" y2="414" stroke="#cacaca"/>
<line x1="459.5" y1="512" x2="459.5" y2="514" stroke="#cacaca"/>
<line x1="464.5" y1="400" x2="464.5" y2="402" stroke="#cacaca"/>
<line x1="464.5" y1="412" x2="464.5" y2="414" stroke="#cacaca"/>
<line x1="464.5" y1="512" x2="464.5" y2="514" stroke="#cacaca"/>
<line x1="469.5" y1="400" x2="469.5" y2="402" stroke="#cacaca"/>
<line x1="469.5" y1="412" x2="469.5" y2="414" stroke="#cacaca"/>
<line x1="469.5" y1="512" x2="469.5" y2="514" stroke="#cacaca"/>
<line x1="474.5" y1="400" x2="474.5" y2="402" stroke="#cacaca"/>
<line x1="474.5" y1="412" x2="474.5" y2="414" stroke="#cacaca"/>
<line x1="474.5" y1="512" x2="474.5" y2="514" stroke="#cacaca"/>
<line x1="479.5" y1="400" x2="479.5" y2="402" stroke="#cacaca"/>
<line x1="479.5" y1="412" x2="479.5" y2="414" stroke="#cacaca"/>
<line x1="479.5" y1="512" x2="479.5" y2="514" stroke="#cacaca"/>
<line x1="484.5" y1="400" x2="484.5" y2="402" stroke="#cacaca"/>
<line x1="484.5" y1="412" x2="484.5" y2="414" stroke="#cacaca"/>
<line x1="484.5" y1="512" x2="484.5" y2="514" stroke="#cacaca"/>
<line x1="489.5" y1="400" x2="489.5" y2="402" stroke="#cacaca"/>
<line x1="489.5" y1="412" x2="489.5" y2="414" stroke="#cacaca"/>
<line x1="489.5" y1="512" x2="489.5" y2="514" stroke="#cacaca"/>
<line x1="494.5" y1="400" x2="494.5" y2="402" stroke="#cacaca"/>
<line x1="494.5" y1="412" x2="494.5" y2="414" stroke="#cacaca"/>
<line x1="494.5" y1="512" x2="494.5" y2="514" stroke="#cacaca"/>
<line x1="499.5" y1="400" x2="499.5" y2="402" stroke="#cacaca"/>
<line x1="499.5" y1="412" x2="499.5" y2="414" stroke="#cacaca"/>
<line x1="499.5" y1="512" x2="499.5" y2="514" stroke="#cacaca"/>
<line x1="504.5" y1="400" x2="504.5" y2="402" stroke="#cacaca"/>
<line x1="504.5" y1="412" x2="504.5" y2="414" stroke="#cacaca"/>
<line x1="504.5" y1="512" x2="504.5" y2="514" stroke="#cacaca"/>
<line x1="509.5" y1="400" x2="509.5" y2="402" stroke="#cacaca"/>
<line x1="509.5" y1="412" x2="509.5" y2="414" stroke="#cacaca"/>
<line x1="509.5" y1="512" x2="509.5" y2="514" stroke="#cacaca"/>
<line x1="514.5" y1="400" x2="514.5" y2="402" stroke="#cacaca"/>
<line x1="514.5" y1="412" x2="514.5" y2="414" stroke="#cacaca"/>
<line x1="514.5" y1="512" x2="514.5" y2="514" stroke="#cacaca"/>
<line x1="519.5" y1="400" x2="519.5" y2="402" stroke="#cacaca"/>
<line x1="519.5" y1="412" x2="519.5" y2="414" stroke="#cacaca"/>
<line x1="519.5" y1="512" x2="519.5" y2="514" stroke="#cacaca"/>
<line x1="524.5" y1="400" x2="524.5" y2="402" stroke="#cacaca"/>
<line x1="524.5" y1="412" x2="524.5" y2="414" stroke="#cacaca"/>
<line x1="524.5" y1="512" x2="524.5" y2="514" stroke="#cacaca"/>
<line x1="529.5" y1="400" x2="529.5" y2="402" stroke="#cacaca"/>
<line x1="529.5" y1="412" x2="529.5" y2="414" stroke="#cacaca"/>
<line x1="529.5" y1="512" x2="529.5" y2="514" stroke="#cacaca"/>
<line x1="534.5" y1="400" x2="534.5" y2="402" stroke="#cacaca"/>
<line x1="534.5" y1="412" x2="534.5" y2="414" stroke="#cacaca"/>
<line x1="534.5" y1="512" x2="534.5" y2="514" stroke="#cacaca"/>
<line x1="539.5" y1="400" x2="539.5" y2="402" stroke="#cacaca"/>
<line x1="539.5" y1="412" x2="539.5" y2="414" stroke="#cacaca"/>
<line x1="539.5" y1="512" x2="539.5" y2="514" stroke="#cacaca"/>
<line x1="544.5" y1="400" x2="544.5" y2="402" stroke="#cacaca"/>
<line x1="544.5" y1="412" x2="544.5" y2="414" stroke="#cacaca"/>
<line x1="544.5" y1="512" x2="544.5" y2="514" stroke="#cacaca"/>
<line x1="549.5" y1="400" x2="549.5" y2="402" stroke="#cacaca"/>
<line x1="549.5" y1="412" x2="549.5" y2="414" stroke="#cacaca"/>
<line x1="549.5" y1="512" x2="549.5" y2="514" stroke="#cacaca"/>
<line x1="554.5" y1="400" x2="554.5" y2="402" stroke="#cacaca"/>
<line x1="554.5" y1="412" x2="554.5" y2="414" stroke="#cacaca"/>
<line x1="554.5" y1="512" x2="554.5" y2="514" stroke="#cacaca"/>
<line x1="559.5" y1="400" x2="559.5" y2="402" stroke="#cacaca"/>
<line x1="559.5" y1="412" x2="559.5" y2="414" stroke="#cacaca"/>
<line x1="559.5" y1="512" x2="559.5" y2="514" stroke="#cacaca"/>
<line x1="564.5" y1="400" x2="564.5" y2="402" stroke="#cacaca"/>
<line x1="564.5" y1="412" x2="564.5" y2="414" stroke="#cacaca"/>
<line x1="564.5" y1="512" x2="564.5" y2="514" stroke="#cacaca"/>
<line x1="569.5" y1="400" x2="569.5" y2="402" stroke="#cacaca"/>
<line x1="569.5" y1="412" x2="569.5" y2="414" stroke="#cacaca"/>
<line x1="569.5" y1="512" x2="569.5" y2="514" stroke="#cacaca"/>
<line x1="574.5" y1="400" x2="574.5" y2="402" stroke="#cacaca"/>
<line x1="574.5" y1="412" x2="574.5" y2="414" stroke="#cacaca"/>
<line x1="574.5" y1="512" x2="574.5" y2="514" stroke="#cacaca"/>
<line x1="579.5" y1="400" x2="579.5" y2="402" stroke="#cacaca"/>
<line x1="579.5" y1="412" x2="579.5" y2="414" stroke="#cacaca"/>
<line x1="579.5" y1="512" x2="579.5" y2="514" stroke="#cacaca"/>
<line x1="584.5" y1="400" x2="584.5" y2="402" stroke="#cacaca"/>
<line x1="584.5" y1="412" x2="584.5" y2="414" stroke="#cacaca"/>
<line x1="584.5" y1="512" x2="584.5" y2="514" stroke="#cacaca"/>
<line x1="589.5" y1="400" x2="589.5" y2="402" stroke="#cacaca"/>
<line x1="589.5" y1="412" x2="589.5" y2="414" stroke="#cacaca"/>
<line x1="589.5" y1="512" x2="589.5" y2="514" stroke="#cacaca"/>
<line x1="594.5" y1="400" x2="594.5" y2="402" stroke="#cacaca"/>
<line x1="594.5" y1="412" x2="594.5" y2="414" stroke="#cacaca"/>
<line x1="594.5" y1="512" x2="594.5" y2="514" stroke="#cacaca"/>
<line x1="599.5" y1="400" x2="599.5" y2="402" stroke="#cacaca"/>
<line x1="599.5" y1="412" x2="599.5" y2="414" stroke="#cacaca"/>
<line x1="599.5" y1="512" x2="599.5" y2="514" stroke="#cacaca"/>
<line x1="604.5" y1="400" x2="604.5" y2="402" stroke="#cacaca"/>
<line x1="604.5" y1="412" x2="604.5" y2="414" stroke="#cacaca"/>
<line x1="604.5" y1="512" x2="604.5" y2="514" stroke="#cacaca"/>
<line x1="609.5" y1="400" x2="609.5" y2="402" stroke="#cacaca"/>
<line x1="609.5" y1="412" x2="609.5" y2="414" stroke="#cacaca"/>
<line x1="609.5" y1="512" x2="609.5" y2="514" stroke="#cacaca"/>
<line x1="614.5" y1="400" x2="614.5" y2="402" stroke="#cacaca"/>
<line x1="614.5" y1="412" x2="614.5" y2="414" stroke="#cacaca"/>
<line x1="614.5" y1="512" x2="614.5" y2="514" stroke="#cacaca"/>
<line x1="619.5" y1="400" x2="619.5" y2="402" stroke="#cacaca"/>
<line x1="619.5" y1="412" x2="619.5" y2="414" stroke="#cacaca"/>
<line x1="619.5" y1="512" x2="619.5" y2="514" stroke="#cacaca"/>
<line x1="624.5" y1="400" x2="624.5" y2="402" stroke="#cacaca"/>
<line x1="624.5" y1="412" x2="624.5" y2="414" stroke="#cacaca"/>
<line x1="624.5" y1="512" x2="624.5" y2="514" stroke="#cacaca"/>
<line x1="19.5" y1="400" x2="19.5" y2="403" stroke="#cacaca"/>
<line x1="19.5" y1="411" x2="19.5" y2="414" stroke="#cacaca"/>
<line x1="19.5" y1="512" x2="19.5" y2="515" stroke="#cacaca"/>
<line x1="69.5" y1="400" x2="69.5" y2="403" stroke="#cacaca"/>
<line x1="69.5" y1="411" x2="69.5" y2="414" stroke="#cacaca"/>
<line x1="69.5" y1="512" x2="69.5" y2="515" stroke="#cacaca"/>
<line x1="94.5" y1="400" x2="94.5" y2="403" stroke="#cacaca"/>
<line x1="94.5" y1="411" x2="94.5" y2="414" stroke="#cacaca"/>
<line x1="94.5" y1="512" x2="94.5" y2="515" stroke="#cacaca"/>
<line x1="114.5" y1="400" x2="114.5" y2="403" stroke="#cacaca"/>
<line x1="114.5" y1="411" x2="114.5" y2="414" stroke="#cacaca"/>
<line x1="114.5" y1="512" x2="114.5" y2="515" stroke="#cacaca"/>
<line x1="164.5" y1="400" x2="164.5" y2="403" stroke="#cacaca"/>
<line x1="164.5" y1="411" x2="164.5" y2="414" stroke="#cacaca"/>
<line x1="164.5" y1="512" x2="164.5" y2="515" stroke="#cacaca"/>
<line x1="189.5" y1="400" x2="189.5" y2="403" stroke="#cacaca"/>
<line x1="189.5" y1="411" x2="189.5" y2="414" stroke="#cacaca"/>
<line x1="189.5" y1="512" x2="189.5" y2="515" stroke="#cacaca"/>
<line x1="214.5" y1="400" x2="214.5" y2="403" stroke="#cacaca"/>
<line x1="214.5" y1="411" x2="214.5" y2="414" stroke="#cacaca"/>
<line x1="214.5" y1="512" x2="214.5" y2="515" stroke="#cacaca"/>
<line x1="239.5" y1="400" x2="239.5" y2="403" stroke="#cacaca"/>
<line x1="239.5" y1="411" x2="239.5" y2="414" stroke="#cacaca"/>
<line x1="239.5" y1="512" x2="239.5" y2="515" stroke="#cacaca"/>
<line x1="259.5" y1="400" x2="259.5" y2="403" stroke="#cacaca"/>
<line x1="259.5" y1="411" x2="259.5" y2="414" stroke="#cacaca"/>
<line x1="259.5" y1="512" x2="259.5" y2="515" stroke="#cacaca"/>
<line x1="284.5" y1="400" x2="284.5" y2="403" stroke="#cacaca"/>
<line x1="284.5" y1="411" x2="284.5" y2="414" stroke="#cacaca"/>
<line x1="284.5" y1="512" x2="284.5" y2="515" stroke="#cacaca"/>
<line x1="309.5" y1="400" x2="309.5" y2="403" stroke="#cacaca"/>
<line x1="309.5" y1="411" x2="309.5" y2="414" stroke="#cacaca"/>
<line x1="309.5" y1="512" x2="309.5" y2="515" stroke="#cacaca"/>
<line x1="334.5" y1="400" x2="334.5" y2="403" stroke="#cacaca"/>
<line x1="334.5" y1="411" x2="334.5" y2="414" stroke="#cacaca"/>
<line x1="334.5" y1="512" x2="334.5" y2="515" stroke="#cacaca"/>
<line x1="384.5" y1="400" x2="384.5" y2="403" stroke="#cacaca"/>
<line x1="384.5" y1="411" x2="384.5" y2="414" stroke="#cacaca"/>
<line x1="384.5" y1="512" x2="384.5" y2="515" stroke="#cacaca"/>
<line x1="409.5" y1="400" x2="409.5" y2="403" stroke="#cacaca"/>
<line x1="409.5" y1="411" x2="409.5" y2="414" stroke="#cacaca"/>
<line x1="409.5" y1="512" x2="409.5" y2="515" stroke="#cacaca"/>
<line x1="434.5" y1="400" x2="434.5" y2="403" stroke="#cacaca"/>
<line x1="434.5" y1="411" x2="434.5" y2="414" stroke="#cacaca"/>
<line x1="434.5" y1="512" x2="434.5" y2="515" stroke="#cacaca"/>
<line x1="479.5" y1="400" x2="479.5" y2="403" stroke="#cacaca"/>
<line x1="479.5" y1="411" x2="479.5" y2="414" stroke="#cacaca"/>
<line x1="479.5" y1="512" x2="479.5" y2="515" stroke="#cacaca"/>
<line x1="504.5" y1="400" x2="504.5" y2="403" stroke="#cacaca"/>
<line x1="504.5" y1="411" x2="504.5" y2="414" stroke="#cacaca"/>
<line x1="504.5" y1="512" x2="504.5" y2="515" stroke="#cacaca"/>
<line x1="529.5" y1="400" x2="529.5" y2="403" stroke="#cacaca"/>
<line x1="529.5" y1="411" x2="529.5" y2="414" stroke="#cacaca"/>
<line x1="529.5" y1="512" x2="529.5" y2="515" stroke="#cacaca"/>
<line x1="554.5" y1="400" x2="554.5" y2="403" stroke="#cacaca"/>
<line x1="554.5" y1="411" x2="554.5" y2="414" stroke="#cacaca"/>
<line x1="554.5" y1="512" x2="554.5" y2="515" stroke="#cacaca"/>
<line x1="579.5" y1="400" x2="579.5" y2="403" stroke="#cacaca"/>
<line x1="579.5" y1="411" x2="579.5" y2="414" stroke="#cacaca"/>
<line x1="579.5" y1="512" x2="579.5" y2="515" stroke="#cacaca"/>
<line x1="599.5" y1="400" x2="599.5" y2="403" stroke="#cacaca"/>
<line x1="599.5" y1="411" x2="599.5" y2="414" stroke="#cacaca"/>
<line x1="599.5" y1="512" x2="599.5" y2="515" stroke="#cacaca"/>
<line x1="624.5" y1="400" x2="624.5" y2="403" stroke="#cacaca"/>
<line x1="624.5" y1="411" x2="624.5" y2="414" stroke="#cacaca"/>
<line x1="624.5" y1="512" x2="624.5" y2="515" stroke="#cacaca"/>
<line x1="44.5" y1="400" x2="44.5" y2="403" stroke="#cacaca"/>
<line x1="44.5" y1="411" x2="44.5" y2="414" stroke="#cacaca"/>
<line x1="44.5" y1="512" x2="44.5" y2="515" stroke="#cacaca"/>
<line x1="139.5" y1="400" x2="139.5" y2="403" stroke="#cacaca"/>
<line x1="139.5" y1="411" x2="139.5" y2="414" stroke="#cacaca"/>
<line x1="139.5" y1="512" x2="139.5" y2="515" stroke="#cacaca"/>
<line x1="254.5" y1="400" x2="254.5" y2="403" stroke="#cacaca"/>
<line x1="254.5" y1="411" x2="254.5" y2="414" stroke="#cacaca"/>
<line x1="254.5" y1="512" x2="254.5" y2="515" stroke="#cacaca"/>
<line x1="359.5" y1="400" x2="359.5" y2="403" stroke="#cacaca"/>
<line x1="359.5" y1="411" x2="359.5" y2="414" stroke="#cacaca"/>
<line x1="359.5" y1="512" x2="359.5" y2="515" stroke="#cacaca"/>
<line x1="459.5" y1="400" x2="459.5" y2="403" stroke="#cacaca"/>
<line x1="459.5" y1="411" x2="459.5" y2="414" stroke="#cacaca"/>
<line x1="459.5" y1="512" x2="459.5" y2="515" stroke="#cacaca"/>
<line x1="569.5" y1="400" x2="569.5" y2="403" stroke="#cacaca"/>
<line x1="569.5" y1="411" x2="569.5" y2="414" stroke="#cacaca"/>
<line x1="569.5" y1="512" x2="569.5" y2="515" stroke="#cacaca"/>
<text x="19.5" y="410.7" font-family="'Liberation Sans', sans-serif" font-size="10" fill="#000" font-weight="normal" text-anchor="middle" >25</text>
<text x="44.5" y="410.7" font-family="'Liberation Sans', sans-serif" font-size="11" fill="#000" font-weight="bold" text-anchor="middle" >Feb</text>
<text x="69.5" y="410.7" font-family="'Liberation Sans', sans-serif" font-size="10" fill="#000" font-weight="normal" text-anchor="middle" >8</text>
<text x="94.5" y="410.7" font-family="'Liberation Sans', sans-serif" font-size="10" fill="#000" font-weight="normal" text-anchor="middle" >16</text>
<text x="114.5" y="410.7" font-family="'Liberation Sans', sans-serif" font-size="10" fill="#000" font-weight="normal" text-anchor="middle" >22</text>
<text x="139.5" y="410.7" font-family="'Liberation Sans', sans-serif" font-size="11" fill="#000" font-weight="bold" text-anchor="middle" >Mar</text>
<text x="164.5" y="410.7" font-family="'Liberation Sans', sans-serif" font-size="10" fill="#000" font-weight="normal" text-anchor="middle" >8</text>
<text x="189.5" y="410.7" font-family="'Liberation Sans', sans-serif" font-size="10" fill="#000" font-weight="normal" text-anchor="middle" >15</text>
<text x="214.5" y="410.7" font-family="'Liberation Sans', sans-serif" font-size="10" fill="#000" font-weight="normal" text-anchor="middle" >22</text>
<text x="239.0" y="410.7" font-family="'Liberation Sans', sans-serif" font-size="10" fill="#000" font-weight="normal" text-anchor="middle" >29</text>
<text x="255.6" y="410.7" font-family="'Liberation Sans', sans-serif" font-size="11" fill="#000" font-weight="bold" text-anchor="middle" >Apr</text>
<text x="284.5" y="410.7" font-family="'Liberation Sans', sans-serif" font-size="10" fill="#000" font-weight="normal" text-anchor="middle" >12</text>
<text x="309.5" y="410.7" font-family="'Liberation Sans', sans-serif" font-size="10" fill="#000" font-weight="normal" text-anchor="middle" >19</text>
<text x="334.5" y="410.7" font-family="'Liberation Sans', sans-serif" font-size="10" fill="#000" font-weight="normal" text-anchor="middle" >26</text>
<text x="359.5" y="410.7" font-family="'Liberation Sans', sans-serif" font-size="11" fill="#000" font-weight="bold" text-anchor="middle" >May</text>
<text x="384.5" y="410.7" font-family="'Liberation Sans', sans-serif" font-size="10" fill="#000" font-weight="normal" text-anchor="middle" >10</text>
<text x="409.5" y="410.7" font-family="'Liberation Sans', sans-serif" font-size="10" fill="#000" font-weight="normal" text-anchor="middle" >17</text>
<text x="434.5" y="410.7" font-family="'Liberation Sans', sans-serif" font-size="10" fill="#000" font-weight="normal" text-anchor="middle" >24</text>
<text x="460.5" y="410.7" font-family="'Liberation Sans', sans-serif" font-size="11" fill="#000" font-weight="bold" text-anchor="middle" >Jun</text>
<text x="479.5" y="410.7" font-family="'Liberation Sans', sans-serif" font-size="10" fill="#000" font-weight="normal" text-anchor="middle" >7</text>
<text x="504.5" y="410.7" font-family="'Liberation Sans', sans-serif" font-size="10" fill="#000" font-weight="normal" text-anchor="middle" >14</text>
<text x="529.5" y="410.7" font-family="'Liberation Sans', sans-serif" font-size="10" fill="#000" font-weight="normal" text-anchor="middle" >21</text>
<text x="553.5" y="410.7" font-family="'Liberation Sans', sans-serif" font-size="10" fill="#000" font-weight="normal" text-anchor="middle" >28</text>
<text x="568.5" y="410.7" font-family="'Liberation Sans', sans-serif" font-size="11" fill="#000" font-weight="bold" text-anchor="middle" >Jul</text>
<text x="579.5" y="410.7" font-family="'Liberation Sans', sans-serif" font-size="10" fill="#000" font-weight="normal" text-anchor="middle" >6</text>
<text x="599.5" y="410.7" font-family="'Liberation Sans', sans-serif" font-size="10" fill="#000" font-weight="normal" text-anchor="middle" >12</text>
<text x="624.5" y="410.7" font-family="'Liberation Sans', sans-serif" font-size="10" fill="#000" font-weight="normal" text-anchor="middle" >19</text>
<text x="19.5" y="521.6" font-family="'Liberation Sans', sans-serif" font-size="10" fill="#000" font-weight="normal" text-anchor="middle" >25</text>
<text x="44.5" y="521.6" font-family="'Liberation Sans', sans-serif" font-size="11" fill="#000" font-weight="bold" text-anchor="middle" >Feb</text>
<text x="69.5" y="521.6" font-family="'Liberation Sans', sans-serif" font-size="10" fill="#000" font-weight="normal" text-anchor="middle" >8</text>
<text x="94.5" y="521.6" font-family="'Liberation Sans', sans-serif" font-size="10" fill="#000" font-weight="normal" text-anchor="middle" >16</text>
<text x="114.5" y="521.6" font-family="'Liberation Sans', sans-serif" font-size="10" fill="#000" font-weight="normal" text-anchor="middle" >22</text>
<text x="139.5" y="521.6" font-family="'Liberation Sans', sans-serif" font-size="11" fill="#000" font-weight="bold" text-anchor="middle" >Mar</text>
<text x="164.5" y="521.6" font-family="'Liberation Sans', sans-serif" font-size="10" fill="#000" font-weight="normal" text-anchor="middle" >8</text>
<text x="189.5" y="521.6" font-family="'Liberation Sans', sans-serif" font-size="10" fill="#000" font-weight="normal" text-anchor="middle" >15</text>
<text x="214.5" y="521.6" font-family="'Liberation Sans', sans-serif" font-size="10" fill="#000" font-weight="normal" text-anchor="middle" >22</text>
<text x="239.0" y="521.6" font-family="'Liberation Sans', sans-serif" font-size="10" fill="#000" font-weight="normal" text-anchor="middle" >29</text>
<text x="255.6" y="521.6" font-family="'Liberation Sans', sans-serif" font-size="11" fill="#000" font-weight="bold" text-anchor="middle" >Apr</text>
<text x="284.5" y="521.6" font-family="'Liberation Sans', sans-serif" font-size="10" fill="#000" font-weight="normal" text-anchor="middle" >12</text>
<text x="309.5" y="521.6" font-family="'Liberation Sans', sans-serif" font-size="10" fill="#000" font-weight="normal" text-anchor="middle" >19</text>
<text x="334.5" y="521.6" font-family="'Liberation Sans', sans-serif" font-size="10" fill="#000" font-weight="normal" text-anchor="middle" >26</text>
<text x="359.5" y="521.6" font-family="'Liberation Sans', sans-serif" font-size="11" fill="#000" font-weight="bold" text-anchor="middle" >May</text>
<text x="384.5" y="521.6" font-family="'Liberation Sans', sans-serif" font-size="10" fill="#000" font-weight="normal" text-anchor="middle" >10</text>
<text x="409.5" y="521.6" font-family="'Liberation Sans', sans-serif" font-size="10" fill="#000" font-weight="normal" text-anchor="middle" >17</text>
<text x="434.5" y="521.6" font-family="'Liberation Sans', sans-serif" font-size="10" fill="#000" font-weight="normal" text-anchor="middle" >24</text>
<text x="460.5" y="521.6" font-family="'Liberation Sans', sans-serif" font-size="11" fill="#000" font-weight="bold" text-anchor="middle" >Jun</text>
<text x="479.5" y="521.6" font-family="'Liberation Sans', sans-serif" font-size="10" fill="#000" font-weight="normal" text-anchor="middle" >7</text>
<text x="504.5" y="521.6" font-family="'Liberation Sans', sans-serif" font-size="10" fill="#000" font-weight="normal" text-anchor="middle" >14</text>
<text x="529.5" y="521.6" font-family="'Liberation Sans', sans-serif" font-size="10" fill="#000" font-weight="normal" text-anchor="middle" >21</text>
<text x="553.5" y="521.6" font-family="'Liberation Sans', sans-serif" font-size="10" fill="#000" font-weight="normal" text-anchor="middle" >28</text>
<text x="568.5" y="521.6" font-family="'Liberation Sans', sans-serif" font-size="11" fill="#000" font-weight="bold" text-anchor="middle" >Jul</text>
<text x="579.5" y="521.6" font-family="'Liberation Sans', sans-serif" font-size="10" fill="#000" font-weight="normal" text-anchor="middle" >6</text>
<text x="599.5" y="521.6" font-family="'Liberation Sans', sans-serif" font-size="10" fill="#000" font-weight="normal" text-anchor="middle" >12</text>
<text x="624.5" y="521.6" font-family="'Liberation Sans', sans-serif" font-size="10" fill="#000" font-weight="normal" text-anchor="middle" >19</text>
<line x1="647" y1="115.5" x2="648" y2="115.5" stroke="#cacaca"/>
<line x1="647" y1="111.5" x2="648" y2="111.5" stroke="#cacaca"/>
<line x1="647" y1="107.5" x2="648" y2="107.5" stroke="#cacaca"/>
<line x1="647" y1="103.5" x2="648" y2="103.5" stroke="#cacaca"/>
<line x1="647" y1="99.5" x2="648" y2="99.5" stroke="#cacaca"/>
<line x1="647" y1="94.5" x2="648" y2="94.5" stroke="#cacaca"/>
<line x1="647" y1="90.5" x2="648" y2="90.5" stroke="#cacaca"/>
<line x1="647" y1="86.5" x2="648" y2="86.5" stroke="#cacaca"/>
<line x1="647" y1="82.5" x2="648" y2="82.5" stroke="#cacaca"/>
<line x1="647" y1="78.5" x2="648" y2="78.5" stroke="#cacaca"/>
<line x1="647" y1="74.5" x2="648" y2="74.5" stroke="#cacaca"/>
<line x1="647" y1="70.5" x2="648" y2="70.5" stroke="#cacaca"/>
<line x1="647" y1="66.5" x2="648" y2="66.5" stroke="#cacaca"/>
<line x1="647" y1="61.5" x2="648" y2="61.5" stroke="#cacaca"/>
<line x1="647" y1="57.5" x2="648" y2="57.5" stroke="#cacaca"/>
<line x1="647" y1="53.5" x2="648" y2="53.5" stroke="#cacaca"/>
<line x1="647" y1="49.5" x2="648" y2="49.5" stroke="#cacaca"/>
<line x1="647" y1="45.5" x2="648" y2="45.5" stroke="#cacaca"/>
<line x1="647" y1="41.5" x2="648" y2="41.5" stroke="#cacaca"/>
<line x1="647" y1="37.5" x2="648" y2="37.5" stroke="#cacaca"/>
<line x1="647" y1="32.5" x2="648" y2="32.5" stroke="#cacaca"/>
<line x1="647" y1="395.5" x2="648" y2="395.5" stroke="#cacaca"/>
<line x1="647" y1="387.5" x2="648" y2="387.5" stroke="#cacaca"/>
<line x1="647" y1="380.5" x2="648" y2="380.5" stroke="#cacaca"/>
<line x1="647" y1="373.5" x2="648" y2="373.5" stroke="#cacaca"/>
<line x1="647" y1="366.5" x2="648" y2="366.5" stroke="#cacaca"/>
<line x1="647" y1="360.5" x2="648" y2="360.5" stroke="#cacaca"/>
<line x1="647" y1="353.5" x2="648" y2="353.5" stroke="#cacaca"/>
<line x1="647" y1="347.5" x2="648" y2="347.5" stroke="#cacaca"/>
<line x1="647" y1="341.5" x2="648" y2="341.5" stroke="#cacaca"/>
<line x1="647" y1="335.5" x2="648" y2="335.5" stroke="#cacaca"/>
<line x1="647" y1="330.5" x2="648" y2="330.5" stroke="#cacaca"/>
<line x1="647" y1="324.5" x2="648" y2="324.5" stroke="#cacaca"/>
<line x1="647" y1="318.5" x2="648" y2="318.5" stroke="#cacaca"/>
<line x1="647" y1="313.5" x2="648" y2="313.5" stroke="#cacaca"/>
<line x1="647" y1="308.5" x2="648" y2="308.5" stroke="#cacaca"/>
<line x1="647" y1="303.5" x2="648" y2="303.5" stroke="#cacaca"/>
<line x1="647" y1="298.5" x2="648" y2="298.5" stroke="#cacaca"/>
<line x1="647" y1="293.5" x2="648" y2="293.5" stroke="#cacaca"/>
<line x1="647" y1="288.5" x2="648" y2="288.5" stroke="#cacaca"/>
<line x1="647" y1="283.5" x2="648" y2="283.5" stroke="#cacaca"/>
<line x1="647" y1="279.5" x2="648" y2="279.5" stroke="#cacaca"/>
<line x1="647" y1="274.5" x2="648" y2="274.5" stroke="#cacaca"/>
<line x1="647" y1="270.5" x2="648" y2="270.5" stroke="#cacaca"/>
<line x1="647" y1="266.5" x2="648" y2="266.5" stroke="#cacaca"/>
<line x1="647" y1="261.5" x2="648" y2="261.5" stroke="#cacaca"/>
<line x1="647" y1="257.5" x2="648" y2="257.5" stroke="#cacaca"/>
<line x1="647" y1="253.5" x2="648" y2="253.5" stroke="#cacaca"/>
<line x1="647" y1="249.5" x2="648" y2="249.5" stroke="#cacaca"/>
<line x1="647" y1="245.5" x2="648" y2="245.5" stroke="#cacaca"/>
<line x1="647" y1="241.5" x2="648" y2="241.5" stroke="#cacaca"/>
<line x1="647" y1="237.5" x2="648" y2="237.5" stroke="#cacaca"/>
<line x1="647" y1="234.5" x2="648" y2="234.5" stroke="#cacaca"/>
<line x1="647" y1="230.5" x2="648" y2="230.5" stroke="#cacaca"/>
<line x1="647" y1="226.5" x2="648" y2="226.5" stroke="#cacaca"/>
<line x1="647" y1="223.5" x2="648" y2="223.5" stroke="#cacaca"/>
<line x1="647" y1="219.5" x2="648" y2="219.5" stroke="#cacaca"/>
<line x1="647" y1="216.5" x2="648" y2="216.5" stroke="#cacaca"/>
<line x1="647" y1="212.5" x2="648" y2="212.5" stroke="#cacaca"/>
<line x1="647" y1="209.5" x2="648" y2="209.5" stroke="#cacaca"/>
<line x1="647" y1="206.5" x2="648" y2="206.5" stroke="#cacaca"/>
<line x1="647" y1="202.5" x2="648" y2="202.5" stroke="#cacaca"/>
<line x1="647" y1="199.5" x2="648" y2="199.5" stroke="#cacaca"/>
<line x1="647" y1="196.5" x2="648" y2="196.5" stroke="#cacaca"/>
<line x1="647" y1="193.5" x2="648" y2="193.5" stroke="#cacaca"/>
<line x1="647" y1="190.5" x2="648" y2="190.5" stroke="#cacaca"/>
<line x1="647" y1="187.5" x2="648" y2="187.5" stroke="#cacaca"/>
<line x1="647" y1="184.5" x2="648" y2="184.5" stroke="#cacaca"/>
<line x1="647" y1="181.5" x2="648" y2="181.5" stroke="#cacaca"/>
<line x1="647" y1="178.5" x2="648" y2="178.5" stroke="#cacaca"/>
<line x1="647" y1="175.5" x2="648" y2="175.5" stroke="#cacaca"/>
<line x1="647" y1="172.5" x2="648" y2="172.5" stroke="#cacaca"/>
<line x1="647" y1="169.5" x2="648" y2="169.5" stroke="#cacaca"/>
<line x1="647" y1="166.5" x2="648" y2="166.5" stroke="#cacaca"/>
<line x1="647" y1="164.5" x2="648" y2="164.5" stroke="#cacaca"/>
<line x1="647" y1="161.5" x2="648" y2="161.5" stroke="#cacaca"/>
<line x1="647" y1="158.5" x2="648" y2="158.5" stroke="#cacaca"/>
<line x1="647" y1="156.5" x2="648" y2="156.5" stroke="#cacaca"/>
<line x1="647" y1="153.5" x2="648" y2="153.5" stroke="#cacaca"/>
<line x1="647" y1="150.5" x2="648" y2="150.5" stroke="#cacaca"/>
<line x1="647" y1="148.5" x2="648" y2="148.5" stroke="#cacaca"/>
<line x1="647" y1="145.5" x2="648" y2="145.5" stroke="#cacaca"/>
<line x1="647" y1="143.5" x2="648" y2="143.5" stroke="#cacaca"/>
<line x1="647" y1="140.5" x2="648" y2="140.5" stroke="#cacaca"/>
<line x1="647" y1="138.5" x2="648" y2="138.5" stroke="#cacaca"/>
<line x1="647" y1="135.5" x2="648" y2="135.5" stroke="#cacaca"/>
<line x1="647" y1="133.5" x2="648" y2="133.5" stroke="#cacaca"/>
<line x1="647" y1="131.5" x2="648" y2="131.5" stroke="#cacaca"/>
<line x1="647" y1="510.5" x2="648" y2="510.5" stroke="#cacaca"/>
<line x1="647" y1="504.5" x2="648" y2="504.5" stroke="#cacaca"/>
<line x1="647" y1="497.5" x2="648" y2="497.5" stroke="#cacaca"/>
<line x1="647" y1="491.5" x2="648" y2="491.5" stroke="#cacaca"/>
<line x1="647" y1="485.5" x2="648" y2="485.5" stroke="#cacaca"/>
<line x1="647" y1="479.5" x2="648" y2="479.5" stroke="#cacaca"/>
<line x1="647" y1="472.5" x2="648" y2="472.5" stroke="#cacaca"/>
<line x1="647" y1="466.5" x2="648" y2="466.5" stroke="#cacaca"/>
<line x1="647" y1="460.5" x2="648" y2="460.5" stroke="#cacaca"/>
<line x1="647" y1="454.5" x2="648" y2="454.5" stroke="#cacaca"/>
<line x1="647" y1="447.5" x2="648" y2="447.5" stroke="#cacaca"/>
<line x1="647" y1="441.5" x2="648" y2="441.5" stroke="#cacaca"/>
<line x1="647" y1="435.5" x2="648" y2="435.5" stroke="#cacaca"/>
<line x1="647" y1="429.5" x2="648" y2="429.5" stroke="#cacaca"/>
<line x1="647" y1="422.5" x2="648" y2="422.5" stroke="#cacaca"/>
<line x1="647" y1="416.5" x2="648" y2="416.5" stroke="#cacaca"/>
<text x="650" y="52.980000000000004" font-family="'Liberation Sans', sans-serif" font-size="10" fill="#000" font-weight="normal" text-anchor="start" textLength="11" lengthAdjust="spacing" >80</text>
<text x="650" y="77.79" font-family="'Liberation Sans', sans-serif" font-size="10" fill="#000" font-weight="normal" text-anchor="start" textLength="11" lengthAdjust="spacing" >50</text>
<text x="650" y="102.6" font-family="'Liberation Sans', sans-serif" font-size="10" fill="#000" font-weight="normal" text-anchor="start" textLength="11" lengthAdjust="spacing" >20</text>
<text x="650" y="136.89324668047269" font-family="'Liberation Sans', sans-serif" font-size="10" fill="#000" font-weight="normal" text-anchor="start" textLength="20" lengthAdjust="spacing" >47.5</text>
<text x="650" y="149.18272607520635" font-family="'Liberation Sans', sans-serif" font-size="10" fill="#000" font-weight="normal" text-anchor="start" textLength="20" lengthAdjust="spacing" >45.0</text>
<text x="650" y="162.17483354102663" font-family="'Liberation Sans', sans-serif" font-size="10" fill="#000" font-weight="normal" text-anchor="start" textLength="20" lengthAdjust="spacing" >42.5</text>
<text x="650" y="175.9548100799023" font-family="'Liberation Sans', sans-serif" font-size="10" fill="#000" font-weight="normal" text-anchor="start" textLength="20" lengthAdjust="spacing" >40.0</text>
<text x="650" y="190.6244159344722" font-family="'Liberation Sans', sans-serif" font-size="10" fill="#000" font-weight="normal" text-anchor="start" textLength="20" lengthAdjust="spacing" >37.5</text>
<text x="650" y="206.30649562345633" font-family="'Liberation Sans', sans-serif" font-size="10" fill="#000" font-weight="normal" text-anchor="start" textLength="20" lengthAdjust="spacing" >35.0</text>
<text x="650" y="223.15123769399725" font-family="'Liberation Sans', sans-serif" font-size="10" fill="#000" font-weight="normal" text-anchor="start" textLength="20" lengthAdjust="spacing" >32.5</text>
<text x="650" y="306.73508021648195" font-family="'Liberation Sans', sans-serif" font-size="10" fill="#000" font-weight="normal" text-anchor="start" textLength="20" lengthAdjust="spacing" >22.5</text>
<text x="650" y="333.5071642211779" font-family="'Liberation Sans', sans-serif" font-size="10" fill="#000" font-weight="normal" text-anchor="start" textLength="20" lengthAdjust="spacing" >20.0</text>
<text x="650" y="363.8588497647318" font-family="'Liberation Sans', sans-serif" font-size="10" fill="#000" font-weight="normal" text-anchor="start" textLength="20" lengthAdjust="spacing" >17.5</text>
<text x="650" y="398.8972992894677" font-family="'Liberation Sans', sans-serif" font-size="10" fill="#000" font-weight="normal" text-anchor="start" textLength="20" lengthAdjust="spacing" >15.0</text>
<text x="650" y="438.9" font-family="'Liberation Sans', sans-serif" font-size="10" fill="#000" font-weight="normal" text-anchor="start" textLength="5.5" lengthAdjust="spacing" >4</text>
<text x="650" y="463.9" font-family="'Liberation Sans', sans-serif" font-size="10" fill="#000" font-weight="normal" text-anchor="start" textLength="5.5" lengthAdjust="spacing" >2</text>
<path d="M648,99.5 L677.5,99.5 L677.5,109.5 L648,109.5 L644.2,104.5 Z" fill="#fff" stroke="#000" stroke-width="1"/>
<text x="649.6" y="108.0" font-family="'Liberation Sans', sans-serif" font-size="10" fill="#000" font-weight="normal" text-anchor="start" textLength="26.2" lengthAdjust="spacing" >13.42</text>
<path d="M648,233.5 L677.5,233.5 L677.5,243.5 L648,243.5 L644.2,238.5 Z" fill="#fff" stroke="#00008b" stroke-width="1"/>
<text x="649.6" y="242.0" font-family="'Liberation Sans', sans-serif" font-size="10" fill="#000" font-weight="normal" text-anchor="start" textLength="26.2" lengthAdjust="spacing" >29.85</text>
<path d="M648,251.5 L677.5,251.5 L677.5,261.5 L648,261.5 L644.2,256.5 Z" fill="#fff" stroke="#ff0000" stroke-width="1"/>
<text x="649.6" y="260.0" font-family="'Liberation Sans', sans-serif" font-size="10" fill="#000" font-weight="normal" text-anchor="start" textLength="26.2" lengthAdjust="spacing" >27.58</text>
<path d="M648,276.5 L677.5,276.5 L677.5,287.5 L648,287.5 L644.2,282.0 Z" fill="#fff" stroke="#000" stroke-width="1"/>
<text x="649.3" y="285.5" font-family="'Liberation Sans', sans-serif" font-size="10.7" fill="#000" font-weight="bold" text-anchor="start" textLength="26.8" lengthAdjust="spacing" >24.63</text>
<path d="M648,482.5 L681,482.5 L681,492.5 L648,492.5 L644.2,487.5 Z" fill="#fff" stroke="#3b96c8" stroke-width="1"/>
<text x="648.6" y="491.0" font-family="'Liberation Sans', sans-serif" font-size="10" fill="#000" font-weight="normal" text-anchor="start" textLength="29.6" lengthAdjust="spacing" >-0.189</text>
<path d="M648,493.5 L681,493.5 L681,503.5 L648,503.5 L644.2,498.5 Z" fill="#fff" stroke="#ff0000" stroke-width="1"/>
<path d="M648,495.5 L681,495.5 L681,505.5 L648,505.5 L644.2,500.5 Z" fill="#fff" stroke="#000" stroke-width="1"/>
<text x="648.6" y="504.0" font-family="'Liberation Sans', sans-serif" font-size="10" fill="#000" font-weight="normal" text-anchor="start" textLength="29.6" lengthAdjust="spacing" >-1.225</text>
</svg>
</body></html>
